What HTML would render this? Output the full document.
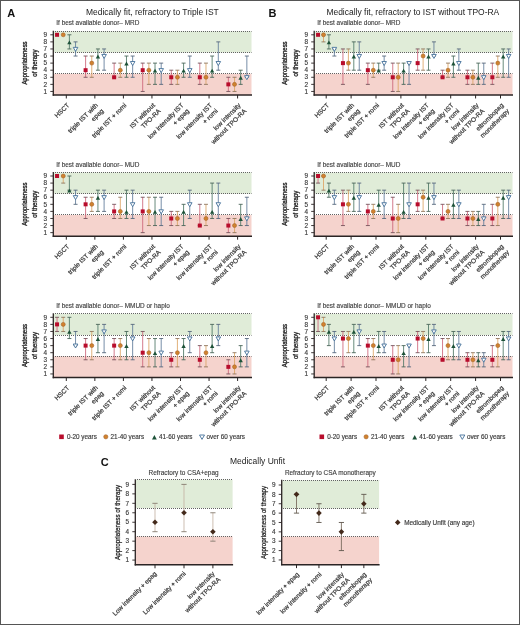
<!DOCTYPE html>
<html><head><meta charset="utf-8"><style>html,body{margin:0;padding:0;background:#fff;}body{width:520px;height:625px;overflow:hidden;position:relative;}</style></head>
<body>
<svg width="520" height="625" viewBox="0 0 520 625" font-family='"Liberation Sans", sans-serif' style="position:absolute;left:0;top:0;will-change:transform">
<rect x="0" y="0" width="520" height="625" fill="#fff"/>
<text x="7.2" y="17" font-size="11" font-weight="bold" fill="#111">A</text>
<text x="268.4" y="17.2" font-size="11" font-weight="bold" fill="#111">B</text>
<text x="100.8" y="466.3" font-size="11" font-weight="bold" fill="#111">C</text>
<text x="86" y="14.6" font-size="8.47" fill="#222">Medically fit, refractory to Triple IST</text>
<text x="326.4" y="14.6" font-size="8.47" fill="#222">Medically fit, refractory to IST without TPO-RA</text>
<text x="230" y="463.5" font-size="8.47" fill="#222">Medically Unfit</text>
<rect x="53.30" y="31.26" width="198.20" height="21.24" fill="#e0ecd8"/>
<rect x="53.30" y="73.74" width="198.20" height="21.24" fill="#f5d3cd"/>
<line x1="55.00" y1="31.50" x2="251.50" y2="31.50" stroke="#626262" stroke-width="1" stroke-dasharray="1 1"/>
<line x1="55.00" y1="52.50" x2="251.50" y2="52.50" stroke="#626262" stroke-width="1" stroke-dasharray="1 1"/>
<line x1="55.00" y1="73.50" x2="251.50" y2="73.50" stroke="#626262" stroke-width="1" stroke-dasharray="1 1"/>


<line x1="69.38" y1="34.80" x2="69.38" y2="48.96" stroke="#4d7664" stroke-width="0.85"/><line x1="67.38" y1="34.80" x2="71.38" y2="34.80" stroke="#4a6458" stroke-width="0.9"/><line x1="67.38" y1="48.96" x2="71.38" y2="48.96" stroke="#4a6458" stroke-width="0.9"/>
<line x1="75.55" y1="41.88" x2="75.55" y2="56.04" stroke="#5f7a98" stroke-width="0.85"/><line x1="73.55" y1="41.88" x2="77.55" y2="41.88" stroke="#56667a" stroke-width="0.9"/><line x1="73.55" y1="56.04" x2="77.55" y2="56.04" stroke="#56667a" stroke-width="0.9"/>
<rect x="55.05" y="32.80" width="4.00" height="4.00" fill="#b80d2c"/>
<circle cx="63.22" cy="34.80" r="2.00" fill="#d0822e" stroke="#a8642c" stroke-width="0.6"/>
<path d="M69.38,40.38 L71.58,44.28 L67.18,44.28Z" fill="#1d5238"/>
<path d="M73.25,47.36 L77.85,47.36 L75.55,51.36Z" fill="#fff" stroke="#44709a" stroke-width="0.9"/>
<line x1="85.60" y1="56.04" x2="85.60" y2="77.28" stroke="#cc6378" stroke-width="0.85"/><line x1="83.60" y1="56.04" x2="87.60" y2="56.04" stroke="#74525a" stroke-width="0.9"/><line x1="83.60" y1="77.28" x2="87.60" y2="77.28" stroke="#74525a" stroke-width="0.9"/>
<line x1="91.77" y1="56.04" x2="91.77" y2="77.28" stroke="#dca464" stroke-width="0.85"/><line x1="89.77" y1="56.04" x2="93.77" y2="56.04" stroke="#8e765e" stroke-width="0.9"/><line x1="89.77" y1="77.28" x2="93.77" y2="77.28" stroke="#8e765e" stroke-width="0.9"/>
<line x1="97.93" y1="48.96" x2="97.93" y2="70.20" stroke="#4d7664" stroke-width="0.85"/><line x1="95.93" y1="48.96" x2="99.93" y2="48.96" stroke="#4a6458" stroke-width="0.9"/><line x1="95.93" y1="70.20" x2="99.93" y2="70.20" stroke="#4a6458" stroke-width="0.9"/>
<line x1="104.10" y1="48.96" x2="104.10" y2="70.20" stroke="#5f7a98" stroke-width="0.85"/><line x1="102.10" y1="48.96" x2="106.10" y2="48.96" stroke="#56667a" stroke-width="0.9"/><line x1="102.10" y1="70.20" x2="106.10" y2="70.20" stroke="#56667a" stroke-width="0.9"/>
<rect x="83.60" y="68.20" width="4.00" height="4.00" fill="#b80d2c"/>
<circle cx="91.77" cy="63.12" r="2.00" fill="#d0822e" stroke="#a8642c" stroke-width="0.6"/>
<path d="M97.93,54.54 L100.13,58.44 L95.73,58.44Z" fill="#1d5238"/>
<path d="M101.80,54.44 L106.40,54.44 L104.10,58.44Z" fill="#fff" stroke="#44709a" stroke-width="0.9"/>
<line x1="114.15" y1="63.12" x2="114.15" y2="77.28" stroke="#cc6378" stroke-width="0.85"/><line x1="112.15" y1="63.12" x2="116.15" y2="63.12" stroke="#74525a" stroke-width="0.9"/><line x1="112.15" y1="77.28" x2="116.15" y2="77.28" stroke="#74525a" stroke-width="0.9"/>
<line x1="120.32" y1="63.12" x2="120.32" y2="77.28" stroke="#dca464" stroke-width="0.85"/><line x1="118.32" y1="63.12" x2="122.32" y2="63.12" stroke="#8e765e" stroke-width="0.9"/><line x1="118.32" y1="77.28" x2="122.32" y2="77.28" stroke="#8e765e" stroke-width="0.9"/>
<line x1="126.48" y1="56.04" x2="126.48" y2="77.28" stroke="#4d7664" stroke-width="0.85"/><line x1="124.48" y1="56.04" x2="128.48" y2="56.04" stroke="#4a6458" stroke-width="0.9"/><line x1="124.48" y1="77.28" x2="128.48" y2="77.28" stroke="#4a6458" stroke-width="0.9"/>
<line x1="132.65" y1="56.04" x2="132.65" y2="77.28" stroke="#5f7a98" stroke-width="0.85"/><line x1="130.65" y1="56.04" x2="134.65" y2="56.04" stroke="#56667a" stroke-width="0.9"/><line x1="130.65" y1="77.28" x2="134.65" y2="77.28" stroke="#56667a" stroke-width="0.9"/>
<rect x="112.15" y="75.28" width="4.00" height="4.00" fill="#b80d2c"/>
<circle cx="120.32" cy="70.20" r="2.00" fill="#d0822e" stroke="#a8642c" stroke-width="0.6"/>
<path d="M126.48,61.62 L128.68,65.52 L124.28,65.52Z" fill="#1d5238"/>
<path d="M130.35,61.52 L134.95,61.52 L132.65,65.52Z" fill="#fff" stroke="#44709a" stroke-width="0.9"/>
<line x1="142.70" y1="63.12" x2="142.70" y2="91.44" stroke="#cc6378" stroke-width="0.85"/><line x1="140.70" y1="63.12" x2="144.70" y2="63.12" stroke="#74525a" stroke-width="0.9"/><line x1="140.70" y1="91.44" x2="144.70" y2="91.44" stroke="#74525a" stroke-width="0.9"/>
<line x1="148.87" y1="63.12" x2="148.87" y2="84.36" stroke="#dca464" stroke-width="0.85"/><line x1="146.87" y1="63.12" x2="150.87" y2="63.12" stroke="#8e765e" stroke-width="0.9"/><line x1="146.87" y1="84.36" x2="150.87" y2="84.36" stroke="#8e765e" stroke-width="0.9"/>
<line x1="155.03" y1="63.12" x2="155.03" y2="84.36" stroke="#4d7664" stroke-width="0.85"/><line x1="153.03" y1="63.12" x2="157.03" y2="63.12" stroke="#4a6458" stroke-width="0.9"/><line x1="153.03" y1="84.36" x2="157.03" y2="84.36" stroke="#4a6458" stroke-width="0.9"/>
<line x1="161.20" y1="63.12" x2="161.20" y2="84.36" stroke="#5f7a98" stroke-width="0.85"/><line x1="159.20" y1="63.12" x2="163.20" y2="63.12" stroke="#56667a" stroke-width="0.9"/><line x1="159.20" y1="84.36" x2="163.20" y2="84.36" stroke="#56667a" stroke-width="0.9"/>
<rect x="140.70" y="68.20" width="4.00" height="4.00" fill="#b80d2c"/>
<circle cx="148.87" cy="70.20" r="2.00" fill="#d0822e" stroke="#a8642c" stroke-width="0.6"/>
<path d="M155.03,68.70 L157.23,72.60 L152.83,72.60Z" fill="#1d5238"/>
<path d="M158.90,68.60 L163.50,68.60 L161.20,72.60Z" fill="#fff" stroke="#44709a" stroke-width="0.9"/>
<line x1="171.25" y1="70.20" x2="171.25" y2="84.36" stroke="#cc6378" stroke-width="0.85"/><line x1="169.25" y1="70.20" x2="173.25" y2="70.20" stroke="#74525a" stroke-width="0.9"/><line x1="169.25" y1="84.36" x2="173.25" y2="84.36" stroke="#74525a" stroke-width="0.9"/>
<line x1="177.42" y1="70.20" x2="177.42" y2="84.36" stroke="#dca464" stroke-width="0.85"/><line x1="175.42" y1="70.20" x2="179.42" y2="70.20" stroke="#8e765e" stroke-width="0.9"/><line x1="175.42" y1="84.36" x2="179.42" y2="84.36" stroke="#8e765e" stroke-width="0.9"/>
<line x1="183.58" y1="63.12" x2="183.58" y2="77.28" stroke="#4d7664" stroke-width="0.85"/><line x1="181.58" y1="63.12" x2="185.58" y2="63.12" stroke="#4a6458" stroke-width="0.9"/><line x1="181.58" y1="77.28" x2="185.58" y2="77.28" stroke="#4a6458" stroke-width="0.9"/>
<line x1="189.75" y1="56.04" x2="189.75" y2="77.28" stroke="#5f7a98" stroke-width="0.85"/><line x1="187.75" y1="56.04" x2="191.75" y2="56.04" stroke="#56667a" stroke-width="0.9"/><line x1="187.75" y1="77.28" x2="191.75" y2="77.28" stroke="#56667a" stroke-width="0.9"/>
<rect x="169.25" y="75.28" width="4.00" height="4.00" fill="#b80d2c"/>
<circle cx="177.42" cy="77.28" r="2.00" fill="#d0822e" stroke="#a8642c" stroke-width="0.6"/>
<path d="M183.58,68.70 L185.78,72.60 L181.38,72.60Z" fill="#1d5238"/>
<path d="M187.45,68.60 L192.05,68.60 L189.75,72.60Z" fill="#fff" stroke="#44709a" stroke-width="0.9"/>
<line x1="199.80" y1="63.12" x2="199.80" y2="84.36" stroke="#cc6378" stroke-width="0.85"/><line x1="197.80" y1="63.12" x2="201.80" y2="63.12" stroke="#74525a" stroke-width="0.9"/><line x1="197.80" y1="84.36" x2="201.80" y2="84.36" stroke="#74525a" stroke-width="0.9"/>
<line x1="205.97" y1="63.12" x2="205.97" y2="84.36" stroke="#dca464" stroke-width="0.85"/><line x1="203.97" y1="63.12" x2="207.97" y2="63.12" stroke="#8e765e" stroke-width="0.9"/><line x1="203.97" y1="84.36" x2="207.97" y2="84.36" stroke="#8e765e" stroke-width="0.9"/>
<line x1="212.13" y1="56.04" x2="212.13" y2="77.28" stroke="#4d7664" stroke-width="0.85"/><line x1="210.13" y1="56.04" x2="214.13" y2="56.04" stroke="#4a6458" stroke-width="0.9"/><line x1="210.13" y1="77.28" x2="214.13" y2="77.28" stroke="#4a6458" stroke-width="0.9"/>
<line x1="218.30" y1="41.88" x2="218.30" y2="70.20" stroke="#5f7a98" stroke-width="0.85"/><line x1="216.30" y1="41.88" x2="220.30" y2="41.88" stroke="#56667a" stroke-width="0.9"/><line x1="216.30" y1="70.20" x2="220.30" y2="70.20" stroke="#56667a" stroke-width="0.9"/>
<rect x="197.80" y="75.28" width="4.00" height="4.00" fill="#b80d2c"/>
<circle cx="205.97" cy="77.28" r="2.00" fill="#d0822e" stroke="#a8642c" stroke-width="0.6"/>
<path d="M212.13,68.70 L214.33,72.60 L209.93,72.60Z" fill="#1d5238"/>
<path d="M216.00,61.52 L220.60,61.52 L218.30,65.52Z" fill="#fff" stroke="#44709a" stroke-width="0.9"/>
<line x1="228.35" y1="77.28" x2="228.35" y2="91.44" stroke="#cc6378" stroke-width="0.85"/><line x1="226.35" y1="77.28" x2="230.35" y2="77.28" stroke="#74525a" stroke-width="0.9"/><line x1="226.35" y1="91.44" x2="230.35" y2="91.44" stroke="#74525a" stroke-width="0.9"/>
<line x1="234.52" y1="77.28" x2="234.52" y2="91.44" stroke="#dca464" stroke-width="0.85"/><line x1="232.52" y1="77.28" x2="236.52" y2="77.28" stroke="#8e765e" stroke-width="0.9"/><line x1="232.52" y1="91.44" x2="236.52" y2="91.44" stroke="#8e765e" stroke-width="0.9"/>
<line x1="240.68" y1="70.20" x2="240.68" y2="84.36" stroke="#4d7664" stroke-width="0.85"/><line x1="238.68" y1="70.20" x2="242.68" y2="70.20" stroke="#4a6458" stroke-width="0.9"/><line x1="238.68" y1="84.36" x2="242.68" y2="84.36" stroke="#4a6458" stroke-width="0.9"/>
<line x1="246.85" y1="56.04" x2="246.85" y2="77.28" stroke="#5f7a98" stroke-width="0.85"/><line x1="244.85" y1="56.04" x2="248.85" y2="56.04" stroke="#56667a" stroke-width="0.9"/><line x1="244.85" y1="77.28" x2="248.85" y2="77.28" stroke="#56667a" stroke-width="0.9"/>
<rect x="226.35" y="82.36" width="4.00" height="4.00" fill="#b80d2c"/>
<circle cx="234.52" cy="84.36" r="2.00" fill="#d0822e" stroke="#a8642c" stroke-width="0.6"/>
<path d="M240.68,75.78 L242.88,79.68 L238.48,79.68Z" fill="#1d5238"/>
<path d="M244.55,75.68 L249.15,75.68 L246.85,79.68Z" fill="#fff" stroke="#44709a" stroke-width="0.9"/>
<line x1="53.30" y1="30.76" x2="53.30" y2="95.68" stroke="#2b2424" stroke-width="1.3"/>
<line x1="52.70" y1="94.98" x2="252.00" y2="94.98" stroke="#2b2424" stroke-width="1.5"/>
<line x1="50.30" y1="91.44" x2="53.30" y2="91.44" stroke="#2b2424" stroke-width="0.9"/>
<text x="47.10" y="93.64" font-size="6.4" text-anchor="end" fill="#3a3a3a" stroke="#3a3a3a" stroke-width="0.15">1</text>
<line x1="50.30" y1="84.36" x2="53.30" y2="84.36" stroke="#2b2424" stroke-width="0.9"/>
<text x="47.10" y="86.56" font-size="6.4" text-anchor="end" fill="#3a3a3a" stroke="#3a3a3a" stroke-width="0.15">2</text>
<line x1="50.30" y1="77.28" x2="53.30" y2="77.28" stroke="#2b2424" stroke-width="0.9"/>
<text x="47.10" y="79.48" font-size="6.4" text-anchor="end" fill="#3a3a3a" stroke="#3a3a3a" stroke-width="0.15">3</text>
<line x1="50.30" y1="70.20" x2="53.30" y2="70.20" stroke="#2b2424" stroke-width="0.9"/>
<text x="47.10" y="72.40" font-size="6.4" text-anchor="end" fill="#3a3a3a" stroke="#3a3a3a" stroke-width="0.15">4</text>
<line x1="50.30" y1="63.12" x2="53.30" y2="63.12" stroke="#2b2424" stroke-width="0.9"/>
<text x="47.10" y="65.32" font-size="6.4" text-anchor="end" fill="#3a3a3a" stroke="#3a3a3a" stroke-width="0.15">5</text>
<line x1="50.30" y1="56.04" x2="53.30" y2="56.04" stroke="#2b2424" stroke-width="0.9"/>
<text x="47.10" y="58.24" font-size="6.4" text-anchor="end" fill="#3a3a3a" stroke="#3a3a3a" stroke-width="0.15">6</text>
<line x1="50.30" y1="48.96" x2="53.30" y2="48.96" stroke="#2b2424" stroke-width="0.9"/>
<text x="47.10" y="51.16" font-size="6.4" text-anchor="end" fill="#3a3a3a" stroke="#3a3a3a" stroke-width="0.15">7</text>
<line x1="50.30" y1="41.88" x2="53.30" y2="41.88" stroke="#2b2424" stroke-width="0.9"/>
<text x="47.10" y="44.08" font-size="6.4" text-anchor="end" fill="#3a3a3a" stroke="#3a3a3a" stroke-width="0.15">8</text>
<line x1="50.30" y1="34.80" x2="53.30" y2="34.80" stroke="#2b2424" stroke-width="0.9"/>
<text x="47.10" y="37.00" font-size="6.4" text-anchor="end" fill="#3a3a3a" stroke="#3a3a3a" stroke-width="0.15">9</text>
<line x1="66.30" y1="94.98" x2="66.30" y2="98.48" stroke="#2b2424" stroke-width="1"/>
<line x1="94.85" y1="94.98" x2="94.85" y2="98.48" stroke="#2b2424" stroke-width="1"/>
<line x1="123.40" y1="94.98" x2="123.40" y2="98.48" stroke="#2b2424" stroke-width="1"/>
<line x1="151.95" y1="94.98" x2="151.95" y2="98.48" stroke="#2b2424" stroke-width="1"/>
<line x1="180.50" y1="94.98" x2="180.50" y2="98.48" stroke="#2b2424" stroke-width="1"/>
<line x1="209.05" y1="94.98" x2="209.05" y2="98.48" stroke="#2b2424" stroke-width="1"/>
<line x1="237.60" y1="94.98" x2="237.60" y2="98.48" stroke="#2b2424" stroke-width="1"/>
<text x="69.80" y="105.78" font-size="6.5" text-anchor="end" fill="#3a3a3a" stroke="#3a3a3a" stroke-width="0.24" transform="rotate(-45 69.80 105.78)">HSCT</text>
<text x="98.35" y="105.78" font-size="6.5" text-anchor="end" fill="#3a3a3a" stroke="#3a3a3a" stroke-width="0.24" transform="rotate(-45 98.35 105.78)">triple IST with</text>
<text x="104.01" y="111.44" font-size="6.5" text-anchor="end" fill="#3a3a3a" stroke="#3a3a3a" stroke-width="0.24" transform="rotate(-45 104.01 111.44)">epag</text>
<text x="126.90" y="105.78" font-size="6.5" text-anchor="end" fill="#3a3a3a" stroke="#3a3a3a" stroke-width="0.24" transform="rotate(-45 126.90 105.78)">triple IST + romi</text>
<text x="155.45" y="105.78" font-size="6.5" text-anchor="end" fill="#3a3a3a" stroke="#3a3a3a" stroke-width="0.24" transform="rotate(-45 155.45 105.78)">IST without</text>
<text x="161.11" y="111.44" font-size="6.5" text-anchor="end" fill="#3a3a3a" stroke="#3a3a3a" stroke-width="0.24" transform="rotate(-45 161.11 111.44)">TPO-RA</text>
<text x="184.00" y="105.78" font-size="6.5" text-anchor="end" fill="#3a3a3a" stroke="#3a3a3a" stroke-width="0.24" transform="rotate(-45 184.00 105.78)">low intensity IST</text>
<text x="189.66" y="111.44" font-size="6.5" text-anchor="end" fill="#3a3a3a" stroke="#3a3a3a" stroke-width="0.24" transform="rotate(-45 189.66 111.44)">+ epag</text>
<text x="212.55" y="105.78" font-size="6.5" text-anchor="end" fill="#3a3a3a" stroke="#3a3a3a" stroke-width="0.24" transform="rotate(-45 212.55 105.78)">low intensity IST</text>
<text x="218.21" y="111.44" font-size="6.5" text-anchor="end" fill="#3a3a3a" stroke="#3a3a3a" stroke-width="0.24" transform="rotate(-45 218.21 111.44)">+ romi</text>
<text x="241.10" y="105.78" font-size="6.5" text-anchor="end" fill="#3a3a3a" stroke="#3a3a3a" stroke-width="0.24" transform="rotate(-45 241.10 105.78)">low intensity</text>
<text x="246.76" y="111.44" font-size="6.5" text-anchor="end" fill="#3a3a3a" stroke="#3a3a3a" stroke-width="0.24" transform="rotate(-45 246.76 111.44)">without TPO-RA</text>
<text x="56.30" y="25.46" font-size="6.45" fill="#3a3a3a" stroke="#3a3a3a" stroke-width="0.12">If best available donor– MRD</text>
<rect x="314.20" y="31.26" width="198.30" height="21.24" fill="#e0ecd8"/>
<rect x="314.20" y="73.74" width="198.30" height="21.24" fill="#f5d3cd"/>
<line x1="316.00" y1="31.50" x2="512.50" y2="31.50" stroke="#626262" stroke-width="1" stroke-dasharray="1 1"/>
<line x1="316.00" y1="52.50" x2="512.50" y2="52.50" stroke="#626262" stroke-width="1" stroke-dasharray="1 1"/>
<line x1="316.00" y1="73.50" x2="512.50" y2="73.50" stroke="#626262" stroke-width="1" stroke-dasharray="1 1"/>

<line x1="323.50" y1="34.80" x2="323.50" y2="41.88" stroke="#dca464" stroke-width="0.85"/><line x1="321.50" y1="34.80" x2="325.50" y2="34.80" stroke="#8e765e" stroke-width="0.9"/><line x1="321.50" y1="41.88" x2="325.50" y2="41.88" stroke="#8e765e" stroke-width="0.9"/>
<line x1="328.90" y1="34.80" x2="328.90" y2="48.96" stroke="#4d7664" stroke-width="0.85"/><line x1="326.90" y1="34.80" x2="330.90" y2="34.80" stroke="#4a6458" stroke-width="0.9"/><line x1="326.90" y1="48.96" x2="330.90" y2="48.96" stroke="#4a6458" stroke-width="0.9"/>
<line x1="334.35" y1="48.96" x2="334.35" y2="56.04" stroke="#5f7a98" stroke-width="0.85"/><line x1="332.35" y1="48.96" x2="336.35" y2="48.96" stroke="#56667a" stroke-width="0.9"/><line x1="332.35" y1="56.04" x2="336.35" y2="56.04" stroke="#56667a" stroke-width="0.9"/>
<rect x="316.05" y="32.80" width="4.00" height="4.00" fill="#b80d2c"/>
<circle cx="323.50" cy="34.80" r="2.00" fill="#d0822e" stroke="#a8642c" stroke-width="0.6"/>
<path d="M328.90,40.38 L331.10,44.28 L326.70,44.28Z" fill="#1d5238"/>
<path d="M332.05,47.36 L336.65,47.36 L334.35,51.36Z" fill="#fff" stroke="#44709a" stroke-width="0.9"/>
<line x1="342.95" y1="48.96" x2="342.95" y2="84.36" stroke="#cc6378" stroke-width="0.85"/><line x1="340.95" y1="48.96" x2="344.95" y2="48.96" stroke="#74525a" stroke-width="0.9"/><line x1="340.95" y1="84.36" x2="344.95" y2="84.36" stroke="#74525a" stroke-width="0.9"/>
<line x1="348.40" y1="48.96" x2="348.40" y2="70.20" stroke="#dca464" stroke-width="0.85"/><line x1="346.40" y1="48.96" x2="350.40" y2="48.96" stroke="#8e765e" stroke-width="0.9"/><line x1="346.40" y1="70.20" x2="350.40" y2="70.20" stroke="#8e765e" stroke-width="0.9"/>
<line x1="353.80" y1="41.88" x2="353.80" y2="70.20" stroke="#4d7664" stroke-width="0.85"/><line x1="351.80" y1="41.88" x2="355.80" y2="41.88" stroke="#4a6458" stroke-width="0.9"/><line x1="351.80" y1="70.20" x2="355.80" y2="70.20" stroke="#4a6458" stroke-width="0.9"/>
<line x1="359.25" y1="41.88" x2="359.25" y2="70.20" stroke="#5f7a98" stroke-width="0.85"/><line x1="357.25" y1="41.88" x2="361.25" y2="41.88" stroke="#56667a" stroke-width="0.9"/><line x1="357.25" y1="70.20" x2="361.25" y2="70.20" stroke="#56667a" stroke-width="0.9"/>
<rect x="340.95" y="61.12" width="4.00" height="4.00" fill="#b80d2c"/>
<circle cx="348.40" cy="63.12" r="2.00" fill="#d0822e" stroke="#a8642c" stroke-width="0.6"/>
<path d="M353.80,54.54 L356.00,58.44 L351.60,58.44Z" fill="#1d5238"/>
<path d="M356.95,54.44 L361.55,54.44 L359.25,58.44Z" fill="#fff" stroke="#44709a" stroke-width="0.9"/>
<line x1="367.85" y1="63.12" x2="367.85" y2="84.36" stroke="#cc6378" stroke-width="0.85"/><line x1="365.85" y1="63.12" x2="369.85" y2="63.12" stroke="#74525a" stroke-width="0.9"/><line x1="365.85" y1="84.36" x2="369.85" y2="84.36" stroke="#74525a" stroke-width="0.9"/>
<line x1="373.30" y1="63.12" x2="373.30" y2="77.28" stroke="#dca464" stroke-width="0.85"/><line x1="371.30" y1="63.12" x2="375.30" y2="63.12" stroke="#8e765e" stroke-width="0.9"/><line x1="371.30" y1="77.28" x2="375.30" y2="77.28" stroke="#8e765e" stroke-width="0.9"/>
<line x1="378.70" y1="63.12" x2="378.70" y2="70.20" stroke="#4d7664" stroke-width="0.85"/><line x1="376.70" y1="63.12" x2="380.70" y2="63.12" stroke="#4a6458" stroke-width="0.9"/><line x1="376.70" y1="70.20" x2="380.70" y2="70.20" stroke="#4a6458" stroke-width="0.9"/>
<line x1="384.15" y1="56.04" x2="384.15" y2="70.20" stroke="#5f7a98" stroke-width="0.85"/><line x1="382.15" y1="56.04" x2="386.15" y2="56.04" stroke="#56667a" stroke-width="0.9"/><line x1="382.15" y1="70.20" x2="386.15" y2="70.20" stroke="#56667a" stroke-width="0.9"/>
<rect x="365.85" y="68.20" width="4.00" height="4.00" fill="#b80d2c"/>
<circle cx="373.30" cy="70.20" r="2.00" fill="#d0822e" stroke="#a8642c" stroke-width="0.6"/>
<path d="M378.70,68.70 L380.90,72.60 L376.50,72.60Z" fill="#1d5238"/>
<path d="M381.85,61.52 L386.45,61.52 L384.15,65.52Z" fill="#fff" stroke="#44709a" stroke-width="0.9"/>
<line x1="392.75" y1="63.12" x2="392.75" y2="91.44" stroke="#cc6378" stroke-width="0.85"/><line x1="390.75" y1="63.12" x2="394.75" y2="63.12" stroke="#74525a" stroke-width="0.9"/><line x1="390.75" y1="91.44" x2="394.75" y2="91.44" stroke="#74525a" stroke-width="0.9"/>
<line x1="398.20" y1="63.12" x2="398.20" y2="91.44" stroke="#dca464" stroke-width="0.85"/><line x1="396.20" y1="63.12" x2="400.20" y2="63.12" stroke="#8e765e" stroke-width="0.9"/><line x1="396.20" y1="91.44" x2="400.20" y2="91.44" stroke="#8e765e" stroke-width="0.9"/>
<line x1="403.60" y1="63.12" x2="403.60" y2="84.36" stroke="#4d7664" stroke-width="0.85"/><line x1="401.60" y1="63.12" x2="405.60" y2="63.12" stroke="#4a6458" stroke-width="0.9"/><line x1="401.60" y1="84.36" x2="405.60" y2="84.36" stroke="#4a6458" stroke-width="0.9"/>
<line x1="409.05" y1="63.12" x2="409.05" y2="84.36" stroke="#5f7a98" stroke-width="0.85"/><line x1="407.05" y1="63.12" x2="411.05" y2="63.12" stroke="#56667a" stroke-width="0.9"/><line x1="407.05" y1="84.36" x2="411.05" y2="84.36" stroke="#56667a" stroke-width="0.9"/>
<rect x="390.75" y="75.28" width="4.00" height="4.00" fill="#b80d2c"/>
<circle cx="398.20" cy="77.28" r="2.00" fill="#d0822e" stroke="#a8642c" stroke-width="0.6"/>
<path d="M403.60,68.70 L405.80,72.60 L401.40,72.60Z" fill="#1d5238"/>
<path d="M406.75,61.52 L411.35,61.52 L409.05,65.52Z" fill="#fff" stroke="#44709a" stroke-width="0.9"/>
<line x1="417.65" y1="48.96" x2="417.65" y2="70.20" stroke="#cc6378" stroke-width="0.85"/><line x1="415.65" y1="48.96" x2="419.65" y2="48.96" stroke="#74525a" stroke-width="0.9"/><line x1="415.65" y1="70.20" x2="419.65" y2="70.20" stroke="#74525a" stroke-width="0.9"/>
<line x1="423.10" y1="48.96" x2="423.10" y2="70.20" stroke="#dca464" stroke-width="0.85"/><line x1="421.10" y1="48.96" x2="425.10" y2="48.96" stroke="#8e765e" stroke-width="0.9"/><line x1="421.10" y1="70.20" x2="425.10" y2="70.20" stroke="#8e765e" stroke-width="0.9"/>
<line x1="428.50" y1="48.96" x2="428.50" y2="70.20" stroke="#4d7664" stroke-width="0.85"/><line x1="426.50" y1="48.96" x2="430.50" y2="48.96" stroke="#4a6458" stroke-width="0.9"/><line x1="426.50" y1="70.20" x2="430.50" y2="70.20" stroke="#4a6458" stroke-width="0.9"/>
<line x1="433.95" y1="41.88" x2="433.95" y2="56.04" stroke="#5f7a98" stroke-width="0.85"/><line x1="431.95" y1="41.88" x2="435.95" y2="41.88" stroke="#56667a" stroke-width="0.9"/><line x1="431.95" y1="56.04" x2="435.95" y2="56.04" stroke="#56667a" stroke-width="0.9"/>
<rect x="415.65" y="61.12" width="4.00" height="4.00" fill="#b80d2c"/>
<circle cx="423.10" cy="56.04" r="2.00" fill="#d0822e" stroke="#a8642c" stroke-width="0.6"/>
<path d="M428.50,54.54 L430.70,58.44 L426.30,58.44Z" fill="#1d5238"/>
<path d="M431.65,54.44 L436.25,54.44 L433.95,58.44Z" fill="#fff" stroke="#44709a" stroke-width="0.9"/>
<line x1="442.55" y1="70.20" x2="442.55" y2="77.28" stroke="#cc6378" stroke-width="0.85"/><line x1="440.55" y1="70.20" x2="444.55" y2="70.20" stroke="#74525a" stroke-width="0.9"/><line x1="440.55" y1="77.28" x2="444.55" y2="77.28" stroke="#74525a" stroke-width="0.9"/>
<line x1="448.00" y1="63.12" x2="448.00" y2="77.28" stroke="#dca464" stroke-width="0.85"/><line x1="446.00" y1="63.12" x2="450.00" y2="63.12" stroke="#8e765e" stroke-width="0.9"/><line x1="446.00" y1="77.28" x2="450.00" y2="77.28" stroke="#8e765e" stroke-width="0.9"/>
<line x1="453.40" y1="56.04" x2="453.40" y2="77.28" stroke="#4d7664" stroke-width="0.85"/><line x1="451.40" y1="56.04" x2="455.40" y2="56.04" stroke="#4a6458" stroke-width="0.9"/><line x1="451.40" y1="77.28" x2="455.40" y2="77.28" stroke="#4a6458" stroke-width="0.9"/>
<line x1="458.85" y1="48.96" x2="458.85" y2="70.20" stroke="#5f7a98" stroke-width="0.85"/><line x1="456.85" y1="48.96" x2="460.85" y2="48.96" stroke="#56667a" stroke-width="0.9"/><line x1="456.85" y1="70.20" x2="460.85" y2="70.20" stroke="#56667a" stroke-width="0.9"/>
<rect x="440.55" y="75.28" width="4.00" height="4.00" fill="#b80d2c"/>
<circle cx="448.00" cy="70.20" r="2.00" fill="#d0822e" stroke="#a8642c" stroke-width="0.6"/>
<path d="M453.40,61.62 L455.60,65.52 L451.20,65.52Z" fill="#1d5238"/>
<path d="M456.55,61.52 L461.15,61.52 L458.85,65.52Z" fill="#fff" stroke="#44709a" stroke-width="0.9"/>
<line x1="467.45" y1="70.20" x2="467.45" y2="84.36" stroke="#cc6378" stroke-width="0.85"/><line x1="465.45" y1="70.20" x2="469.45" y2="70.20" stroke="#74525a" stroke-width="0.9"/><line x1="465.45" y1="84.36" x2="469.45" y2="84.36" stroke="#74525a" stroke-width="0.9"/>
<line x1="472.90" y1="70.20" x2="472.90" y2="84.36" stroke="#dca464" stroke-width="0.85"/><line x1="470.90" y1="70.20" x2="474.90" y2="70.20" stroke="#8e765e" stroke-width="0.9"/><line x1="470.90" y1="84.36" x2="474.90" y2="84.36" stroke="#8e765e" stroke-width="0.9"/>
<line x1="478.30" y1="63.12" x2="478.30" y2="84.36" stroke="#4d7664" stroke-width="0.85"/><line x1="476.30" y1="63.12" x2="480.30" y2="63.12" stroke="#4a6458" stroke-width="0.9"/><line x1="476.30" y1="84.36" x2="480.30" y2="84.36" stroke="#4a6458" stroke-width="0.9"/>
<line x1="483.75" y1="63.12" x2="483.75" y2="84.36" stroke="#5f7a98" stroke-width="0.85"/><line x1="481.75" y1="63.12" x2="485.75" y2="63.12" stroke="#56667a" stroke-width="0.9"/><line x1="481.75" y1="84.36" x2="485.75" y2="84.36" stroke="#56667a" stroke-width="0.9"/>
<rect x="465.45" y="75.28" width="4.00" height="4.00" fill="#b80d2c"/>
<circle cx="472.90" cy="77.28" r="2.00" fill="#d0822e" stroke="#a8642c" stroke-width="0.6"/>
<path d="M478.30,75.78 L480.50,79.68 L476.10,79.68Z" fill="#1d5238"/>
<path d="M481.45,75.68 L486.05,75.68 L483.75,79.68Z" fill="#fff" stroke="#44709a" stroke-width="0.9"/>
<line x1="492.35" y1="63.12" x2="492.35" y2="84.36" stroke="#cc6378" stroke-width="0.85"/><line x1="490.35" y1="63.12" x2="494.35" y2="63.12" stroke="#74525a" stroke-width="0.9"/><line x1="490.35" y1="84.36" x2="494.35" y2="84.36" stroke="#74525a" stroke-width="0.9"/>
<line x1="497.80" y1="56.04" x2="497.80" y2="77.28" stroke="#dca464" stroke-width="0.85"/><line x1="495.80" y1="56.04" x2="499.80" y2="56.04" stroke="#8e765e" stroke-width="0.9"/><line x1="495.80" y1="77.28" x2="499.80" y2="77.28" stroke="#8e765e" stroke-width="0.9"/>
<line x1="503.20" y1="48.96" x2="503.20" y2="77.28" stroke="#4d7664" stroke-width="0.85"/><line x1="501.20" y1="48.96" x2="505.20" y2="48.96" stroke="#4a6458" stroke-width="0.9"/><line x1="501.20" y1="77.28" x2="505.20" y2="77.28" stroke="#4a6458" stroke-width="0.9"/>
<line x1="508.65" y1="48.96" x2="508.65" y2="77.28" stroke="#5f7a98" stroke-width="0.85"/><line x1="506.65" y1="48.96" x2="510.65" y2="48.96" stroke="#56667a" stroke-width="0.9"/><line x1="506.65" y1="77.28" x2="510.65" y2="77.28" stroke="#56667a" stroke-width="0.9"/>
<rect x="490.35" y="75.28" width="4.00" height="4.00" fill="#b80d2c"/>
<circle cx="497.80" cy="63.12" r="2.00" fill="#d0822e" stroke="#a8642c" stroke-width="0.6"/>
<path d="M503.20,54.54 L505.40,58.44 L501.00,58.44Z" fill="#1d5238"/>
<path d="M506.35,54.44 L510.95,54.44 L508.65,58.44Z" fill="#fff" stroke="#44709a" stroke-width="0.9"/>
<line x1="314.20" y1="30.76" x2="314.20" y2="95.68" stroke="#2b2424" stroke-width="1.3"/>
<line x1="313.60" y1="94.98" x2="513.00" y2="94.98" stroke="#2b2424" stroke-width="1.5"/>
<line x1="311.20" y1="91.44" x2="314.20" y2="91.44" stroke="#2b2424" stroke-width="0.9"/>
<text x="308.00" y="93.64" font-size="6.4" text-anchor="end" fill="#3a3a3a" stroke="#3a3a3a" stroke-width="0.15">1</text>
<line x1="311.20" y1="84.36" x2="314.20" y2="84.36" stroke="#2b2424" stroke-width="0.9"/>
<text x="308.00" y="86.56" font-size="6.4" text-anchor="end" fill="#3a3a3a" stroke="#3a3a3a" stroke-width="0.15">2</text>
<line x1="311.20" y1="77.28" x2="314.20" y2="77.28" stroke="#2b2424" stroke-width="0.9"/>
<text x="308.00" y="79.48" font-size="6.4" text-anchor="end" fill="#3a3a3a" stroke="#3a3a3a" stroke-width="0.15">3</text>
<line x1="311.20" y1="70.20" x2="314.20" y2="70.20" stroke="#2b2424" stroke-width="0.9"/>
<text x="308.00" y="72.40" font-size="6.4" text-anchor="end" fill="#3a3a3a" stroke="#3a3a3a" stroke-width="0.15">4</text>
<line x1="311.20" y1="63.12" x2="314.20" y2="63.12" stroke="#2b2424" stroke-width="0.9"/>
<text x="308.00" y="65.32" font-size="6.4" text-anchor="end" fill="#3a3a3a" stroke="#3a3a3a" stroke-width="0.15">5</text>
<line x1="311.20" y1="56.04" x2="314.20" y2="56.04" stroke="#2b2424" stroke-width="0.9"/>
<text x="308.00" y="58.24" font-size="6.4" text-anchor="end" fill="#3a3a3a" stroke="#3a3a3a" stroke-width="0.15">6</text>
<line x1="311.20" y1="48.96" x2="314.20" y2="48.96" stroke="#2b2424" stroke-width="0.9"/>
<text x="308.00" y="51.16" font-size="6.4" text-anchor="end" fill="#3a3a3a" stroke="#3a3a3a" stroke-width="0.15">7</text>
<line x1="311.20" y1="41.88" x2="314.20" y2="41.88" stroke="#2b2424" stroke-width="0.9"/>
<text x="308.00" y="44.08" font-size="6.4" text-anchor="end" fill="#3a3a3a" stroke="#3a3a3a" stroke-width="0.15">8</text>
<line x1="311.20" y1="34.80" x2="314.20" y2="34.80" stroke="#2b2424" stroke-width="0.9"/>
<text x="308.00" y="37.00" font-size="6.4" text-anchor="end" fill="#3a3a3a" stroke="#3a3a3a" stroke-width="0.15">9</text>
<line x1="326.20" y1="94.98" x2="326.20" y2="98.48" stroke="#2b2424" stroke-width="1"/>
<line x1="351.10" y1="94.98" x2="351.10" y2="98.48" stroke="#2b2424" stroke-width="1"/>
<line x1="376.00" y1="94.98" x2="376.00" y2="98.48" stroke="#2b2424" stroke-width="1"/>
<line x1="400.90" y1="94.98" x2="400.90" y2="98.48" stroke="#2b2424" stroke-width="1"/>
<line x1="425.80" y1="94.98" x2="425.80" y2="98.48" stroke="#2b2424" stroke-width="1"/>
<line x1="450.70" y1="94.98" x2="450.70" y2="98.48" stroke="#2b2424" stroke-width="1"/>
<line x1="475.60" y1="94.98" x2="475.60" y2="98.48" stroke="#2b2424" stroke-width="1"/>
<line x1="500.50" y1="94.98" x2="500.50" y2="98.48" stroke="#2b2424" stroke-width="1"/>
<text x="329.70" y="105.78" font-size="6.5" text-anchor="end" fill="#3a3a3a" stroke="#3a3a3a" stroke-width="0.24" transform="rotate(-45 329.70 105.78)">HSCT</text>
<text x="354.60" y="105.78" font-size="6.5" text-anchor="end" fill="#3a3a3a" stroke="#3a3a3a" stroke-width="0.24" transform="rotate(-45 354.60 105.78)">triple IST with</text>
<text x="360.26" y="111.44" font-size="6.5" text-anchor="end" fill="#3a3a3a" stroke="#3a3a3a" stroke-width="0.24" transform="rotate(-45 360.26 111.44)">epag</text>
<text x="379.50" y="105.78" font-size="6.5" text-anchor="end" fill="#3a3a3a" stroke="#3a3a3a" stroke-width="0.24" transform="rotate(-45 379.50 105.78)">triple IST + romi</text>
<text x="404.40" y="105.78" font-size="6.5" text-anchor="end" fill="#3a3a3a" stroke="#3a3a3a" stroke-width="0.24" transform="rotate(-45 404.40 105.78)">IST without</text>
<text x="410.06" y="111.44" font-size="6.5" text-anchor="end" fill="#3a3a3a" stroke="#3a3a3a" stroke-width="0.24" transform="rotate(-45 410.06 111.44)">TPO-RA</text>
<text x="429.30" y="105.78" font-size="6.5" text-anchor="end" fill="#3a3a3a" stroke="#3a3a3a" stroke-width="0.24" transform="rotate(-45 429.30 105.78)">low intensity IST</text>
<text x="434.96" y="111.44" font-size="6.5" text-anchor="end" fill="#3a3a3a" stroke="#3a3a3a" stroke-width="0.24" transform="rotate(-45 434.96 111.44)">+ epag</text>
<text x="454.20" y="105.78" font-size="6.5" text-anchor="end" fill="#3a3a3a" stroke="#3a3a3a" stroke-width="0.24" transform="rotate(-45 454.20 105.78)">low intensity IST</text>
<text x="459.86" y="111.44" font-size="6.5" text-anchor="end" fill="#3a3a3a" stroke="#3a3a3a" stroke-width="0.24" transform="rotate(-45 459.86 111.44)">+ romi</text>
<text x="479.10" y="105.78" font-size="6.5" text-anchor="end" fill="#3a3a3a" stroke="#3a3a3a" stroke-width="0.24" transform="rotate(-45 479.10 105.78)">low intensity</text>
<text x="484.76" y="111.44" font-size="6.5" text-anchor="end" fill="#3a3a3a" stroke="#3a3a3a" stroke-width="0.24" transform="rotate(-45 484.76 111.44)">without TPO-RA</text>
<text x="504.00" y="105.78" font-size="6.5" text-anchor="end" fill="#3a3a3a" stroke="#3a3a3a" stroke-width="0.24" transform="rotate(-45 504.00 105.78)">eltrombopag</text>
<text x="509.66" y="111.44" font-size="6.5" text-anchor="end" fill="#3a3a3a" stroke="#3a3a3a" stroke-width="0.24" transform="rotate(-45 509.66 111.44)">monotherapy</text>
<text x="317.30" y="25.46" font-size="6.45" fill="#3a3a3a" stroke="#3a3a3a" stroke-width="0.12">If best available donor– MRD</text>
<text x="26.60" y="63.02" font-size="6.7" text-anchor="middle" fill="#222" stroke="#222" stroke-width="0.3" textLength="43.2" lengthAdjust="spacingAndGlyphs" transform="rotate(-90 26.60 63.02)">Appropriateness</text>
<text x="37.20" y="63.02" font-size="6.7" text-anchor="middle" fill="#222" stroke="#222" stroke-width="0.3" textLength="27.2" lengthAdjust="spacingAndGlyphs" transform="rotate(-90 37.20 63.02)">of therapy</text>
<text x="287.50" y="63.02" font-size="6.7" text-anchor="middle" fill="#222" stroke="#222" stroke-width="0.3" textLength="43.2" lengthAdjust="spacingAndGlyphs" transform="rotate(-90 287.50 63.02)">Appropriateness</text>
<text x="298.10" y="63.02" font-size="6.7" text-anchor="middle" fill="#222" stroke="#222" stroke-width="0.3" textLength="27.2" lengthAdjust="spacingAndGlyphs" transform="rotate(-90 298.10 63.02)">of therapy</text>
<rect x="53.30" y="172.46" width="198.20" height="21.24" fill="#e0ecd8"/>
<rect x="53.30" y="214.94" width="198.20" height="21.24" fill="#f5d3cd"/>
<line x1="55.00" y1="172.50" x2="251.50" y2="172.50" stroke="#626262" stroke-width="1" stroke-dasharray="1 1"/>
<line x1="55.00" y1="193.50" x2="251.50" y2="193.50" stroke="#626262" stroke-width="1" stroke-dasharray="1 1"/>
<line x1="55.00" y1="214.50" x2="251.50" y2="214.50" stroke="#626262" stroke-width="1" stroke-dasharray="1 1"/>

<line x1="63.22" y1="176.00" x2="63.22" y2="183.08" stroke="#dca464" stroke-width="0.85"/><line x1="61.22" y1="176.00" x2="65.22" y2="176.00" stroke="#8e765e" stroke-width="0.9"/><line x1="61.22" y1="183.08" x2="65.22" y2="183.08" stroke="#8e765e" stroke-width="0.9"/>
<line x1="69.38" y1="176.00" x2="69.38" y2="190.16" stroke="#4d7664" stroke-width="0.85"/><line x1="67.38" y1="176.00" x2="71.38" y2="176.00" stroke="#4a6458" stroke-width="0.9"/><line x1="67.38" y1="190.16" x2="71.38" y2="190.16" stroke="#4a6458" stroke-width="0.9"/>
<line x1="75.55" y1="190.16" x2="75.55" y2="204.32" stroke="#5f7a98" stroke-width="0.85"/><line x1="73.55" y1="190.16" x2="77.55" y2="190.16" stroke="#56667a" stroke-width="0.9"/><line x1="73.55" y1="204.32" x2="77.55" y2="204.32" stroke="#56667a" stroke-width="0.9"/>
<rect x="55.05" y="174.00" width="4.00" height="4.00" fill="#b80d2c"/>
<circle cx="63.22" cy="176.00" r="2.00" fill="#d0822e" stroke="#a8642c" stroke-width="0.6"/>
<path d="M69.38,188.66 L71.58,192.56 L67.18,192.56Z" fill="#1d5238"/>
<path d="M73.25,195.64 L77.85,195.64 L75.55,199.64Z" fill="#fff" stroke="#44709a" stroke-width="0.9"/>
<line x1="85.60" y1="197.24" x2="85.60" y2="218.48" stroke="#cc6378" stroke-width="0.85"/><line x1="83.60" y1="197.24" x2="87.60" y2="197.24" stroke="#74525a" stroke-width="0.9"/><line x1="83.60" y1="218.48" x2="87.60" y2="218.48" stroke="#74525a" stroke-width="0.9"/>
<line x1="91.77" y1="197.24" x2="91.77" y2="211.40" stroke="#dca464" stroke-width="0.85"/><line x1="89.77" y1="197.24" x2="93.77" y2="197.24" stroke="#8e765e" stroke-width="0.9"/><line x1="89.77" y1="211.40" x2="93.77" y2="211.40" stroke="#8e765e" stroke-width="0.9"/>
<line x1="97.93" y1="190.16" x2="97.93" y2="211.40" stroke="#4d7664" stroke-width="0.85"/><line x1="95.93" y1="190.16" x2="99.93" y2="190.16" stroke="#4a6458" stroke-width="0.9"/><line x1="95.93" y1="211.40" x2="99.93" y2="211.40" stroke="#4a6458" stroke-width="0.9"/>
<line x1="104.10" y1="190.16" x2="104.10" y2="211.40" stroke="#5f7a98" stroke-width="0.85"/><line x1="102.10" y1="190.16" x2="106.10" y2="190.16" stroke="#56667a" stroke-width="0.9"/><line x1="102.10" y1="211.40" x2="106.10" y2="211.40" stroke="#56667a" stroke-width="0.9"/>
<rect x="83.60" y="202.32" width="4.00" height="4.00" fill="#b80d2c"/>
<circle cx="91.77" cy="204.32" r="2.00" fill="#d0822e" stroke="#a8642c" stroke-width="0.6"/>
<path d="M97.93,195.74 L100.13,199.64 L95.73,199.64Z" fill="#1d5238"/>
<path d="M101.80,195.64 L106.40,195.64 L104.10,199.64Z" fill="#fff" stroke="#44709a" stroke-width="0.9"/>
<line x1="114.15" y1="204.32" x2="114.15" y2="218.48" stroke="#cc6378" stroke-width="0.85"/><line x1="112.15" y1="204.32" x2="116.15" y2="204.32" stroke="#74525a" stroke-width="0.9"/><line x1="112.15" y1="218.48" x2="116.15" y2="218.48" stroke="#74525a" stroke-width="0.9"/>
<line x1="120.32" y1="197.24" x2="120.32" y2="218.48" stroke="#dca464" stroke-width="0.85"/><line x1="118.32" y1="197.24" x2="122.32" y2="197.24" stroke="#8e765e" stroke-width="0.9"/><line x1="118.32" y1="218.48" x2="122.32" y2="218.48" stroke="#8e765e" stroke-width="0.9"/>
<line x1="126.48" y1="190.16" x2="126.48" y2="218.48" stroke="#4d7664" stroke-width="0.85"/><line x1="124.48" y1="190.16" x2="128.48" y2="190.16" stroke="#4a6458" stroke-width="0.9"/><line x1="124.48" y1="218.48" x2="128.48" y2="218.48" stroke="#4a6458" stroke-width="0.9"/>
<line x1="132.65" y1="190.16" x2="132.65" y2="218.48" stroke="#5f7a98" stroke-width="0.85"/><line x1="130.65" y1="190.16" x2="134.65" y2="190.16" stroke="#56667a" stroke-width="0.9"/><line x1="130.65" y1="218.48" x2="134.65" y2="218.48" stroke="#56667a" stroke-width="0.9"/>
<rect x="112.15" y="209.40" width="4.00" height="4.00" fill="#b80d2c"/>
<circle cx="120.32" cy="211.40" r="2.00" fill="#d0822e" stroke="#a8642c" stroke-width="0.6"/>
<path d="M126.48,209.90 L128.68,213.80 L124.28,213.80Z" fill="#1d5238"/>
<path d="M130.35,202.72 L134.95,202.72 L132.65,206.72Z" fill="#fff" stroke="#44709a" stroke-width="0.9"/>
<line x1="142.70" y1="197.24" x2="142.70" y2="232.64" stroke="#cc6378" stroke-width="0.85"/><line x1="140.70" y1="197.24" x2="144.70" y2="197.24" stroke="#74525a" stroke-width="0.9"/><line x1="140.70" y1="232.64" x2="144.70" y2="232.64" stroke="#74525a" stroke-width="0.9"/>
<line x1="148.87" y1="197.24" x2="148.87" y2="225.56" stroke="#dca464" stroke-width="0.85"/><line x1="146.87" y1="197.24" x2="150.87" y2="197.24" stroke="#8e765e" stroke-width="0.9"/><line x1="146.87" y1="225.56" x2="150.87" y2="225.56" stroke="#8e765e" stroke-width="0.9"/>
<line x1="155.03" y1="197.24" x2="155.03" y2="225.56" stroke="#4d7664" stroke-width="0.85"/><line x1="153.03" y1="197.24" x2="157.03" y2="197.24" stroke="#4a6458" stroke-width="0.9"/><line x1="153.03" y1="225.56" x2="157.03" y2="225.56" stroke="#4a6458" stroke-width="0.9"/>
<line x1="161.20" y1="197.24" x2="161.20" y2="225.56" stroke="#5f7a98" stroke-width="0.85"/><line x1="159.20" y1="197.24" x2="163.20" y2="197.24" stroke="#56667a" stroke-width="0.9"/><line x1="159.20" y1="225.56" x2="163.20" y2="225.56" stroke="#56667a" stroke-width="0.9"/>
<rect x="140.70" y="209.40" width="4.00" height="4.00" fill="#b80d2c"/>
<circle cx="148.87" cy="211.40" r="2.00" fill="#d0822e" stroke="#a8642c" stroke-width="0.6"/>
<path d="M155.03,209.90 L157.23,213.80 L152.83,213.80Z" fill="#1d5238"/>
<path d="M158.90,209.80 L163.50,209.80 L161.20,213.80Z" fill="#fff" stroke="#44709a" stroke-width="0.9"/>
<line x1="171.25" y1="211.40" x2="171.25" y2="225.56" stroke="#cc6378" stroke-width="0.85"/><line x1="169.25" y1="211.40" x2="173.25" y2="211.40" stroke="#74525a" stroke-width="0.9"/><line x1="169.25" y1="225.56" x2="173.25" y2="225.56" stroke="#74525a" stroke-width="0.9"/>
<line x1="177.42" y1="211.40" x2="177.42" y2="225.56" stroke="#dca464" stroke-width="0.85"/><line x1="175.42" y1="211.40" x2="179.42" y2="211.40" stroke="#8e765e" stroke-width="0.9"/><line x1="175.42" y1="225.56" x2="179.42" y2="225.56" stroke="#8e765e" stroke-width="0.9"/>
<line x1="183.58" y1="204.32" x2="183.58" y2="225.56" stroke="#4d7664" stroke-width="0.85"/><line x1="181.58" y1="204.32" x2="185.58" y2="204.32" stroke="#4a6458" stroke-width="0.9"/><line x1="181.58" y1="225.56" x2="185.58" y2="225.56" stroke="#4a6458" stroke-width="0.9"/>
<line x1="189.75" y1="190.16" x2="189.75" y2="218.48" stroke="#5f7a98" stroke-width="0.85"/><line x1="187.75" y1="190.16" x2="191.75" y2="190.16" stroke="#56667a" stroke-width="0.9"/><line x1="187.75" y1="218.48" x2="191.75" y2="218.48" stroke="#56667a" stroke-width="0.9"/>
<rect x="169.25" y="216.48" width="4.00" height="4.00" fill="#b80d2c"/>
<circle cx="177.42" cy="218.48" r="2.00" fill="#d0822e" stroke="#a8642c" stroke-width="0.6"/>
<path d="M183.58,209.90 L185.78,213.80 L181.38,213.80Z" fill="#1d5238"/>
<path d="M187.45,202.72 L192.05,202.72 L189.75,206.72Z" fill="#fff" stroke="#44709a" stroke-width="0.9"/>
<line x1="199.80" y1="204.32" x2="199.80" y2="225.56" stroke="#cc6378" stroke-width="0.85"/><line x1="197.80" y1="204.32" x2="201.80" y2="204.32" stroke="#74525a" stroke-width="0.9"/><line x1="197.80" y1="225.56" x2="201.80" y2="225.56" stroke="#74525a" stroke-width="0.9"/>
<line x1="205.97" y1="204.32" x2="205.97" y2="225.56" stroke="#dca464" stroke-width="0.85"/><line x1="203.97" y1="204.32" x2="207.97" y2="204.32" stroke="#8e765e" stroke-width="0.9"/><line x1="203.97" y1="225.56" x2="207.97" y2="225.56" stroke="#8e765e" stroke-width="0.9"/>
<line x1="212.13" y1="183.08" x2="212.13" y2="218.48" stroke="#4d7664" stroke-width="0.85"/><line x1="210.13" y1="183.08" x2="214.13" y2="183.08" stroke="#4a6458" stroke-width="0.9"/><line x1="210.13" y1="218.48" x2="214.13" y2="218.48" stroke="#4a6458" stroke-width="0.9"/>
<line x1="218.30" y1="183.08" x2="218.30" y2="218.48" stroke="#5f7a98" stroke-width="0.85"/><line x1="216.30" y1="183.08" x2="220.30" y2="183.08" stroke="#56667a" stroke-width="0.9"/><line x1="216.30" y1="218.48" x2="220.30" y2="218.48" stroke="#56667a" stroke-width="0.9"/>
<rect x="197.80" y="223.56" width="4.00" height="4.00" fill="#b80d2c"/>
<circle cx="205.97" cy="218.48" r="2.00" fill="#d0822e" stroke="#a8642c" stroke-width="0.6"/>
<path d="M212.13,209.90 L214.33,213.80 L209.93,213.80Z" fill="#1d5238"/>
<path d="M216.00,202.72 L220.60,202.72 L218.30,206.72Z" fill="#fff" stroke="#44709a" stroke-width="0.9"/>
<line x1="228.35" y1="218.48" x2="228.35" y2="232.64" stroke="#cc6378" stroke-width="0.85"/><line x1="226.35" y1="218.48" x2="230.35" y2="218.48" stroke="#74525a" stroke-width="0.9"/><line x1="226.35" y1="232.64" x2="230.35" y2="232.64" stroke="#74525a" stroke-width="0.9"/>
<line x1="234.52" y1="218.48" x2="234.52" y2="232.64" stroke="#dca464" stroke-width="0.85"/><line x1="232.52" y1="218.48" x2="236.52" y2="218.48" stroke="#8e765e" stroke-width="0.9"/><line x1="232.52" y1="232.64" x2="236.52" y2="232.64" stroke="#8e765e" stroke-width="0.9"/>
<line x1="240.68" y1="204.32" x2="240.68" y2="225.56" stroke="#4d7664" stroke-width="0.85"/><line x1="238.68" y1="204.32" x2="242.68" y2="204.32" stroke="#4a6458" stroke-width="0.9"/><line x1="238.68" y1="225.56" x2="242.68" y2="225.56" stroke="#4a6458" stroke-width="0.9"/>
<line x1="246.85" y1="197.24" x2="246.85" y2="225.56" stroke="#5f7a98" stroke-width="0.85"/><line x1="244.85" y1="197.24" x2="248.85" y2="197.24" stroke="#56667a" stroke-width="0.9"/><line x1="244.85" y1="225.56" x2="248.85" y2="225.56" stroke="#56667a" stroke-width="0.9"/>
<rect x="226.35" y="223.56" width="4.00" height="4.00" fill="#b80d2c"/>
<circle cx="234.52" cy="225.56" r="2.00" fill="#d0822e" stroke="#a8642c" stroke-width="0.6"/>
<path d="M240.68,216.98 L242.88,220.88 L238.48,220.88Z" fill="#1d5238"/>
<path d="M244.55,216.88 L249.15,216.88 L246.85,220.88Z" fill="#fff" stroke="#44709a" stroke-width="0.9"/>
<line x1="53.30" y1="171.96" x2="53.30" y2="236.88" stroke="#2b2424" stroke-width="1.3"/>
<line x1="52.70" y1="236.18" x2="252.00" y2="236.18" stroke="#2b2424" stroke-width="1.5"/>
<line x1="50.30" y1="232.64" x2="53.30" y2="232.64" stroke="#2b2424" stroke-width="0.9"/>
<text x="47.10" y="234.84" font-size="6.4" text-anchor="end" fill="#3a3a3a" stroke="#3a3a3a" stroke-width="0.15">1</text>
<line x1="50.30" y1="225.56" x2="53.30" y2="225.56" stroke="#2b2424" stroke-width="0.9"/>
<text x="47.10" y="227.76" font-size="6.4" text-anchor="end" fill="#3a3a3a" stroke="#3a3a3a" stroke-width="0.15">2</text>
<line x1="50.30" y1="218.48" x2="53.30" y2="218.48" stroke="#2b2424" stroke-width="0.9"/>
<text x="47.10" y="220.68" font-size="6.4" text-anchor="end" fill="#3a3a3a" stroke="#3a3a3a" stroke-width="0.15">3</text>
<line x1="50.30" y1="211.40" x2="53.30" y2="211.40" stroke="#2b2424" stroke-width="0.9"/>
<text x="47.10" y="213.60" font-size="6.4" text-anchor="end" fill="#3a3a3a" stroke="#3a3a3a" stroke-width="0.15">4</text>
<line x1="50.30" y1="204.32" x2="53.30" y2="204.32" stroke="#2b2424" stroke-width="0.9"/>
<text x="47.10" y="206.52" font-size="6.4" text-anchor="end" fill="#3a3a3a" stroke="#3a3a3a" stroke-width="0.15">5</text>
<line x1="50.30" y1="197.24" x2="53.30" y2="197.24" stroke="#2b2424" stroke-width="0.9"/>
<text x="47.10" y="199.44" font-size="6.4" text-anchor="end" fill="#3a3a3a" stroke="#3a3a3a" stroke-width="0.15">6</text>
<line x1="50.30" y1="190.16" x2="53.30" y2="190.16" stroke="#2b2424" stroke-width="0.9"/>
<text x="47.10" y="192.36" font-size="6.4" text-anchor="end" fill="#3a3a3a" stroke="#3a3a3a" stroke-width="0.15">7</text>
<line x1="50.30" y1="183.08" x2="53.30" y2="183.08" stroke="#2b2424" stroke-width="0.9"/>
<text x="47.10" y="185.28" font-size="6.4" text-anchor="end" fill="#3a3a3a" stroke="#3a3a3a" stroke-width="0.15">8</text>
<line x1="50.30" y1="176.00" x2="53.30" y2="176.00" stroke="#2b2424" stroke-width="0.9"/>
<text x="47.10" y="178.20" font-size="6.4" text-anchor="end" fill="#3a3a3a" stroke="#3a3a3a" stroke-width="0.15">9</text>
<line x1="66.30" y1="236.18" x2="66.30" y2="239.68" stroke="#2b2424" stroke-width="1"/>
<line x1="94.85" y1="236.18" x2="94.85" y2="239.68" stroke="#2b2424" stroke-width="1"/>
<line x1="123.40" y1="236.18" x2="123.40" y2="239.68" stroke="#2b2424" stroke-width="1"/>
<line x1="151.95" y1="236.18" x2="151.95" y2="239.68" stroke="#2b2424" stroke-width="1"/>
<line x1="180.50" y1="236.18" x2="180.50" y2="239.68" stroke="#2b2424" stroke-width="1"/>
<line x1="209.05" y1="236.18" x2="209.05" y2="239.68" stroke="#2b2424" stroke-width="1"/>
<line x1="237.60" y1="236.18" x2="237.60" y2="239.68" stroke="#2b2424" stroke-width="1"/>
<text x="69.80" y="246.98" font-size="6.5" text-anchor="end" fill="#3a3a3a" stroke="#3a3a3a" stroke-width="0.24" transform="rotate(-45 69.80 246.98)">HSCT</text>
<text x="98.35" y="246.98" font-size="6.5" text-anchor="end" fill="#3a3a3a" stroke="#3a3a3a" stroke-width="0.24" transform="rotate(-45 98.35 246.98)">triple IST with</text>
<text x="104.01" y="252.64" font-size="6.5" text-anchor="end" fill="#3a3a3a" stroke="#3a3a3a" stroke-width="0.24" transform="rotate(-45 104.01 252.64)">epag</text>
<text x="126.90" y="246.98" font-size="6.5" text-anchor="end" fill="#3a3a3a" stroke="#3a3a3a" stroke-width="0.24" transform="rotate(-45 126.90 246.98)">triple IST + romi</text>
<text x="155.45" y="246.98" font-size="6.5" text-anchor="end" fill="#3a3a3a" stroke="#3a3a3a" stroke-width="0.24" transform="rotate(-45 155.45 246.98)">IST without</text>
<text x="161.11" y="252.64" font-size="6.5" text-anchor="end" fill="#3a3a3a" stroke="#3a3a3a" stroke-width="0.24" transform="rotate(-45 161.11 252.64)">TPO-RA</text>
<text x="184.00" y="246.98" font-size="6.5" text-anchor="end" fill="#3a3a3a" stroke="#3a3a3a" stroke-width="0.24" transform="rotate(-45 184.00 246.98)">low intensity IST</text>
<text x="189.66" y="252.64" font-size="6.5" text-anchor="end" fill="#3a3a3a" stroke="#3a3a3a" stroke-width="0.24" transform="rotate(-45 189.66 252.64)">+ epag</text>
<text x="212.55" y="246.98" font-size="6.5" text-anchor="end" fill="#3a3a3a" stroke="#3a3a3a" stroke-width="0.24" transform="rotate(-45 212.55 246.98)">low intensity IST</text>
<text x="218.21" y="252.64" font-size="6.5" text-anchor="end" fill="#3a3a3a" stroke="#3a3a3a" stroke-width="0.24" transform="rotate(-45 218.21 252.64)">+ romi</text>
<text x="241.10" y="246.98" font-size="6.5" text-anchor="end" fill="#3a3a3a" stroke="#3a3a3a" stroke-width="0.24" transform="rotate(-45 241.10 246.98)">low intensity</text>
<text x="246.76" y="252.64" font-size="6.5" text-anchor="end" fill="#3a3a3a" stroke="#3a3a3a" stroke-width="0.24" transform="rotate(-45 246.76 252.64)">without TPO-RA</text>
<text x="56.30" y="166.66" font-size="6.45" fill="#3a3a3a" stroke="#3a3a3a" stroke-width="0.12">If best available donor– MUD</text>
<rect x="314.20" y="172.46" width="198.30" height="21.24" fill="#e0ecd8"/>
<rect x="314.20" y="214.94" width="198.30" height="21.24" fill="#f5d3cd"/>
<line x1="316.00" y1="172.50" x2="512.50" y2="172.50" stroke="#626262" stroke-width="1" stroke-dasharray="1 1"/>
<line x1="316.00" y1="193.50" x2="512.50" y2="193.50" stroke="#626262" stroke-width="1" stroke-dasharray="1 1"/>
<line x1="316.00" y1="214.50" x2="512.50" y2="214.50" stroke="#626262" stroke-width="1" stroke-dasharray="1 1"/>
<line x1="318.05" y1="176.00" x2="318.05" y2="183.08" stroke="#cc6378" stroke-width="0.85"/><line x1="316.05" y1="176.00" x2="320.05" y2="176.00" stroke="#74525a" stroke-width="0.9"/><line x1="316.05" y1="183.08" x2="320.05" y2="183.08" stroke="#74525a" stroke-width="0.9"/>
<line x1="323.50" y1="176.00" x2="323.50" y2="190.16" stroke="#dca464" stroke-width="0.85"/><line x1="321.50" y1="176.00" x2="325.50" y2="176.00" stroke="#8e765e" stroke-width="0.9"/><line x1="321.50" y1="190.16" x2="325.50" y2="190.16" stroke="#8e765e" stroke-width="0.9"/>
<line x1="328.90" y1="183.08" x2="328.90" y2="197.24" stroke="#4d7664" stroke-width="0.85"/><line x1="326.90" y1="183.08" x2="330.90" y2="183.08" stroke="#4a6458" stroke-width="0.9"/><line x1="326.90" y1="197.24" x2="330.90" y2="197.24" stroke="#4a6458" stroke-width="0.9"/>
<line x1="334.35" y1="190.16" x2="334.35" y2="204.32" stroke="#5f7a98" stroke-width="0.85"/><line x1="332.35" y1="190.16" x2="336.35" y2="190.16" stroke="#56667a" stroke-width="0.9"/><line x1="332.35" y1="204.32" x2="336.35" y2="204.32" stroke="#56667a" stroke-width="0.9"/>
<rect x="316.05" y="174.00" width="4.00" height="4.00" fill="#b80d2c"/>
<circle cx="323.50" cy="176.00" r="2.00" fill="#d0822e" stroke="#a8642c" stroke-width="0.6"/>
<path d="M328.90,188.66 L331.10,192.56 L326.70,192.56Z" fill="#1d5238"/>
<path d="M332.05,195.64 L336.65,195.64 L334.35,199.64Z" fill="#fff" stroke="#44709a" stroke-width="0.9"/>
<line x1="342.95" y1="190.16" x2="342.95" y2="225.56" stroke="#cc6378" stroke-width="0.85"/><line x1="340.95" y1="190.16" x2="344.95" y2="190.16" stroke="#74525a" stroke-width="0.9"/><line x1="340.95" y1="225.56" x2="344.95" y2="225.56" stroke="#74525a" stroke-width="0.9"/>
<line x1="348.40" y1="190.16" x2="348.40" y2="211.40" stroke="#dca464" stroke-width="0.85"/><line x1="346.40" y1="190.16" x2="350.40" y2="190.16" stroke="#8e765e" stroke-width="0.9"/><line x1="346.40" y1="211.40" x2="350.40" y2="211.40" stroke="#8e765e" stroke-width="0.9"/>
<line x1="353.80" y1="183.08" x2="353.80" y2="211.40" stroke="#4d7664" stroke-width="0.85"/><line x1="351.80" y1="183.08" x2="355.80" y2="183.08" stroke="#4a6458" stroke-width="0.9"/><line x1="351.80" y1="211.40" x2="355.80" y2="211.40" stroke="#4a6458" stroke-width="0.9"/>
<line x1="359.25" y1="183.08" x2="359.25" y2="211.40" stroke="#5f7a98" stroke-width="0.85"/><line x1="357.25" y1="183.08" x2="361.25" y2="183.08" stroke="#56667a" stroke-width="0.9"/><line x1="357.25" y1="211.40" x2="361.25" y2="211.40" stroke="#56667a" stroke-width="0.9"/>
<rect x="340.95" y="202.32" width="4.00" height="4.00" fill="#b80d2c"/>
<circle cx="348.40" cy="204.32" r="2.00" fill="#d0822e" stroke="#a8642c" stroke-width="0.6"/>
<path d="M353.80,195.74 L356.00,199.64 L351.60,199.64Z" fill="#1d5238"/>
<path d="M356.95,195.64 L361.55,195.64 L359.25,199.64Z" fill="#fff" stroke="#44709a" stroke-width="0.9"/>
<line x1="367.85" y1="204.32" x2="367.85" y2="225.56" stroke="#cc6378" stroke-width="0.85"/><line x1="365.85" y1="204.32" x2="369.85" y2="204.32" stroke="#74525a" stroke-width="0.9"/><line x1="365.85" y1="225.56" x2="369.85" y2="225.56" stroke="#74525a" stroke-width="0.9"/>
<line x1="373.30" y1="204.32" x2="373.30" y2="218.48" stroke="#dca464" stroke-width="0.85"/><line x1="371.30" y1="204.32" x2="375.30" y2="204.32" stroke="#8e765e" stroke-width="0.9"/><line x1="371.30" y1="218.48" x2="375.30" y2="218.48" stroke="#8e765e" stroke-width="0.9"/>
<line x1="378.70" y1="190.16" x2="378.70" y2="211.40" stroke="#4d7664" stroke-width="0.85"/><line x1="376.70" y1="190.16" x2="380.70" y2="190.16" stroke="#4a6458" stroke-width="0.9"/><line x1="376.70" y1="211.40" x2="380.70" y2="211.40" stroke="#4a6458" stroke-width="0.9"/>
<line x1="384.15" y1="190.16" x2="384.15" y2="218.48" stroke="#5f7a98" stroke-width="0.85"/><line x1="382.15" y1="190.16" x2="386.15" y2="190.16" stroke="#56667a" stroke-width="0.9"/><line x1="382.15" y1="218.48" x2="386.15" y2="218.48" stroke="#56667a" stroke-width="0.9"/>
<rect x="365.85" y="209.40" width="4.00" height="4.00" fill="#b80d2c"/>
<circle cx="373.30" cy="211.40" r="2.00" fill="#d0822e" stroke="#a8642c" stroke-width="0.6"/>
<path d="M378.70,202.82 L380.90,206.72 L376.50,206.72Z" fill="#1d5238"/>
<path d="M381.85,202.72 L386.45,202.72 L384.15,206.72Z" fill="#fff" stroke="#44709a" stroke-width="0.9"/>
<line x1="392.75" y1="197.24" x2="392.75" y2="232.64" stroke="#cc6378" stroke-width="0.85"/><line x1="390.75" y1="197.24" x2="394.75" y2="197.24" stroke="#74525a" stroke-width="0.9"/><line x1="390.75" y1="232.64" x2="394.75" y2="232.64" stroke="#74525a" stroke-width="0.9"/>
<line x1="398.20" y1="204.32" x2="398.20" y2="232.64" stroke="#dca464" stroke-width="0.85"/><line x1="396.20" y1="204.32" x2="400.20" y2="204.32" stroke="#8e765e" stroke-width="0.9"/><line x1="396.20" y1="232.64" x2="400.20" y2="232.64" stroke="#8e765e" stroke-width="0.9"/>
<line x1="403.60" y1="183.08" x2="403.60" y2="218.48" stroke="#4d7664" stroke-width="0.85"/><line x1="401.60" y1="183.08" x2="405.60" y2="183.08" stroke="#4a6458" stroke-width="0.9"/><line x1="401.60" y1="218.48" x2="405.60" y2="218.48" stroke="#4a6458" stroke-width="0.9"/>
<line x1="409.05" y1="183.08" x2="409.05" y2="218.48" stroke="#5f7a98" stroke-width="0.85"/><line x1="407.05" y1="183.08" x2="411.05" y2="183.08" stroke="#56667a" stroke-width="0.9"/><line x1="407.05" y1="218.48" x2="411.05" y2="218.48" stroke="#56667a" stroke-width="0.9"/>
<rect x="390.75" y="216.48" width="4.00" height="4.00" fill="#b80d2c"/>
<circle cx="398.20" cy="218.48" r="2.00" fill="#d0822e" stroke="#a8642c" stroke-width="0.6"/>
<path d="M403.60,209.90 L405.80,213.80 L401.40,213.80Z" fill="#1d5238"/>
<path d="M406.75,202.72 L411.35,202.72 L409.05,206.72Z" fill="#fff" stroke="#44709a" stroke-width="0.9"/>
<line x1="417.65" y1="190.16" x2="417.65" y2="211.40" stroke="#cc6378" stroke-width="0.85"/><line x1="415.65" y1="190.16" x2="419.65" y2="190.16" stroke="#74525a" stroke-width="0.9"/><line x1="415.65" y1="211.40" x2="419.65" y2="211.40" stroke="#74525a" stroke-width="0.9"/>
<line x1="423.10" y1="190.16" x2="423.10" y2="211.40" stroke="#dca464" stroke-width="0.85"/><line x1="421.10" y1="190.16" x2="425.10" y2="190.16" stroke="#8e765e" stroke-width="0.9"/><line x1="421.10" y1="211.40" x2="425.10" y2="211.40" stroke="#8e765e" stroke-width="0.9"/>
<line x1="428.50" y1="183.08" x2="428.50" y2="211.40" stroke="#4d7664" stroke-width="0.85"/><line x1="426.50" y1="183.08" x2="430.50" y2="183.08" stroke="#4a6458" stroke-width="0.9"/><line x1="426.50" y1="211.40" x2="430.50" y2="211.40" stroke="#4a6458" stroke-width="0.9"/>
<line x1="433.95" y1="183.08" x2="433.95" y2="204.32" stroke="#5f7a98" stroke-width="0.85"/><line x1="431.95" y1="183.08" x2="435.95" y2="183.08" stroke="#56667a" stroke-width="0.9"/><line x1="431.95" y1="204.32" x2="435.95" y2="204.32" stroke="#56667a" stroke-width="0.9"/>
<rect x="415.65" y="202.32" width="4.00" height="4.00" fill="#b80d2c"/>
<circle cx="423.10" cy="197.24" r="2.00" fill="#d0822e" stroke="#a8642c" stroke-width="0.6"/>
<path d="M428.50,195.74 L430.70,199.64 L426.30,199.64Z" fill="#1d5238"/>
<path d="M431.65,195.64 L436.25,195.64 L433.95,199.64Z" fill="#fff" stroke="#44709a" stroke-width="0.9"/>
<line x1="442.55" y1="204.32" x2="442.55" y2="218.48" stroke="#cc6378" stroke-width="0.85"/><line x1="440.55" y1="204.32" x2="444.55" y2="204.32" stroke="#74525a" stroke-width="0.9"/><line x1="440.55" y1="218.48" x2="444.55" y2="218.48" stroke="#74525a" stroke-width="0.9"/>
<line x1="448.00" y1="204.32" x2="448.00" y2="218.48" stroke="#dca464" stroke-width="0.85"/><line x1="446.00" y1="204.32" x2="450.00" y2="204.32" stroke="#8e765e" stroke-width="0.9"/><line x1="446.00" y1="218.48" x2="450.00" y2="218.48" stroke="#8e765e" stroke-width="0.9"/>
<line x1="453.40" y1="190.16" x2="453.40" y2="218.48" stroke="#4d7664" stroke-width="0.85"/><line x1="451.40" y1="190.16" x2="455.40" y2="190.16" stroke="#4a6458" stroke-width="0.9"/><line x1="451.40" y1="218.48" x2="455.40" y2="218.48" stroke="#4a6458" stroke-width="0.9"/>
<line x1="458.85" y1="190.16" x2="458.85" y2="218.48" stroke="#5f7a98" stroke-width="0.85"/><line x1="456.85" y1="190.16" x2="460.85" y2="190.16" stroke="#56667a" stroke-width="0.9"/><line x1="456.85" y1="218.48" x2="460.85" y2="218.48" stroke="#56667a" stroke-width="0.9"/>
<rect x="440.55" y="216.48" width="4.00" height="4.00" fill="#b80d2c"/>
<circle cx="448.00" cy="211.40" r="2.00" fill="#d0822e" stroke="#a8642c" stroke-width="0.6"/>
<path d="M453.40,202.82 L455.60,206.72 L451.20,206.72Z" fill="#1d5238"/>
<path d="M456.55,202.72 L461.15,202.72 L458.85,206.72Z" fill="#fff" stroke="#44709a" stroke-width="0.9"/>
<line x1="467.45" y1="211.40" x2="467.45" y2="225.56" stroke="#cc6378" stroke-width="0.85"/><line x1="465.45" y1="211.40" x2="469.45" y2="211.40" stroke="#74525a" stroke-width="0.9"/><line x1="465.45" y1="225.56" x2="469.45" y2="225.56" stroke="#74525a" stroke-width="0.9"/>
<line x1="472.90" y1="211.40" x2="472.90" y2="225.56" stroke="#dca464" stroke-width="0.85"/><line x1="470.90" y1="211.40" x2="474.90" y2="211.40" stroke="#8e765e" stroke-width="0.9"/><line x1="470.90" y1="225.56" x2="474.90" y2="225.56" stroke="#8e765e" stroke-width="0.9"/>
<line x1="478.30" y1="211.40" x2="478.30" y2="225.56" stroke="#4d7664" stroke-width="0.85"/><line x1="476.30" y1="211.40" x2="480.30" y2="211.40" stroke="#4a6458" stroke-width="0.9"/><line x1="476.30" y1="225.56" x2="480.30" y2="225.56" stroke="#4a6458" stroke-width="0.9"/>
<line x1="483.75" y1="204.32" x2="483.75" y2="225.56" stroke="#5f7a98" stroke-width="0.85"/><line x1="481.75" y1="204.32" x2="485.75" y2="204.32" stroke="#56667a" stroke-width="0.9"/><line x1="481.75" y1="225.56" x2="485.75" y2="225.56" stroke="#56667a" stroke-width="0.9"/>
<rect x="465.45" y="216.48" width="4.00" height="4.00" fill="#b80d2c"/>
<circle cx="472.90" cy="218.48" r="2.00" fill="#d0822e" stroke="#a8642c" stroke-width="0.6"/>
<path d="M478.30,216.98 L480.50,220.88 L476.10,220.88Z" fill="#1d5238"/>
<path d="M481.45,216.88 L486.05,216.88 L483.75,220.88Z" fill="#fff" stroke="#44709a" stroke-width="0.9"/>
<line x1="492.35" y1="204.32" x2="492.35" y2="225.56" stroke="#cc6378" stroke-width="0.85"/><line x1="490.35" y1="204.32" x2="494.35" y2="204.32" stroke="#74525a" stroke-width="0.9"/><line x1="490.35" y1="225.56" x2="494.35" y2="225.56" stroke="#74525a" stroke-width="0.9"/>
<line x1="497.80" y1="197.24" x2="497.80" y2="225.56" stroke="#dca464" stroke-width="0.85"/><line x1="495.80" y1="197.24" x2="499.80" y2="197.24" stroke="#8e765e" stroke-width="0.9"/><line x1="495.80" y1="225.56" x2="499.80" y2="225.56" stroke="#8e765e" stroke-width="0.9"/>
<line x1="503.20" y1="190.16" x2="503.20" y2="218.48" stroke="#4d7664" stroke-width="0.85"/><line x1="501.20" y1="190.16" x2="505.20" y2="190.16" stroke="#4a6458" stroke-width="0.9"/><line x1="501.20" y1="218.48" x2="505.20" y2="218.48" stroke="#4a6458" stroke-width="0.9"/>
<line x1="508.65" y1="190.16" x2="508.65" y2="218.48" stroke="#5f7a98" stroke-width="0.85"/><line x1="506.65" y1="190.16" x2="510.65" y2="190.16" stroke="#56667a" stroke-width="0.9"/><line x1="506.65" y1="218.48" x2="510.65" y2="218.48" stroke="#56667a" stroke-width="0.9"/>
<rect x="490.35" y="216.48" width="4.00" height="4.00" fill="#b80d2c"/>
<circle cx="497.80" cy="204.32" r="2.00" fill="#d0822e" stroke="#a8642c" stroke-width="0.6"/>
<path d="M503.20,195.74 L505.40,199.64 L501.00,199.64Z" fill="#1d5238"/>
<path d="M506.35,195.64 L510.95,195.64 L508.65,199.64Z" fill="#fff" stroke="#44709a" stroke-width="0.9"/>
<line x1="314.20" y1="171.96" x2="314.20" y2="236.88" stroke="#2b2424" stroke-width="1.3"/>
<line x1="313.60" y1="236.18" x2="513.00" y2="236.18" stroke="#2b2424" stroke-width="1.5"/>
<line x1="311.20" y1="232.64" x2="314.20" y2="232.64" stroke="#2b2424" stroke-width="0.9"/>
<text x="308.00" y="234.84" font-size="6.4" text-anchor="end" fill="#3a3a3a" stroke="#3a3a3a" stroke-width="0.15">1</text>
<line x1="311.20" y1="225.56" x2="314.20" y2="225.56" stroke="#2b2424" stroke-width="0.9"/>
<text x="308.00" y="227.76" font-size="6.4" text-anchor="end" fill="#3a3a3a" stroke="#3a3a3a" stroke-width="0.15">2</text>
<line x1="311.20" y1="218.48" x2="314.20" y2="218.48" stroke="#2b2424" stroke-width="0.9"/>
<text x="308.00" y="220.68" font-size="6.4" text-anchor="end" fill="#3a3a3a" stroke="#3a3a3a" stroke-width="0.15">3</text>
<line x1="311.20" y1="211.40" x2="314.20" y2="211.40" stroke="#2b2424" stroke-width="0.9"/>
<text x="308.00" y="213.60" font-size="6.4" text-anchor="end" fill="#3a3a3a" stroke="#3a3a3a" stroke-width="0.15">4</text>
<line x1="311.20" y1="204.32" x2="314.20" y2="204.32" stroke="#2b2424" stroke-width="0.9"/>
<text x="308.00" y="206.52" font-size="6.4" text-anchor="end" fill="#3a3a3a" stroke="#3a3a3a" stroke-width="0.15">5</text>
<line x1="311.20" y1="197.24" x2="314.20" y2="197.24" stroke="#2b2424" stroke-width="0.9"/>
<text x="308.00" y="199.44" font-size="6.4" text-anchor="end" fill="#3a3a3a" stroke="#3a3a3a" stroke-width="0.15">6</text>
<line x1="311.20" y1="190.16" x2="314.20" y2="190.16" stroke="#2b2424" stroke-width="0.9"/>
<text x="308.00" y="192.36" font-size="6.4" text-anchor="end" fill="#3a3a3a" stroke="#3a3a3a" stroke-width="0.15">7</text>
<line x1="311.20" y1="183.08" x2="314.20" y2="183.08" stroke="#2b2424" stroke-width="0.9"/>
<text x="308.00" y="185.28" font-size="6.4" text-anchor="end" fill="#3a3a3a" stroke="#3a3a3a" stroke-width="0.15">8</text>
<line x1="311.20" y1="176.00" x2="314.20" y2="176.00" stroke="#2b2424" stroke-width="0.9"/>
<text x="308.00" y="178.20" font-size="6.4" text-anchor="end" fill="#3a3a3a" stroke="#3a3a3a" stroke-width="0.15">9</text>
<line x1="326.20" y1="236.18" x2="326.20" y2="239.68" stroke="#2b2424" stroke-width="1"/>
<line x1="351.10" y1="236.18" x2="351.10" y2="239.68" stroke="#2b2424" stroke-width="1"/>
<line x1="376.00" y1="236.18" x2="376.00" y2="239.68" stroke="#2b2424" stroke-width="1"/>
<line x1="400.90" y1="236.18" x2="400.90" y2="239.68" stroke="#2b2424" stroke-width="1"/>
<line x1="425.80" y1="236.18" x2="425.80" y2="239.68" stroke="#2b2424" stroke-width="1"/>
<line x1="450.70" y1="236.18" x2="450.70" y2="239.68" stroke="#2b2424" stroke-width="1"/>
<line x1="475.60" y1="236.18" x2="475.60" y2="239.68" stroke="#2b2424" stroke-width="1"/>
<line x1="500.50" y1="236.18" x2="500.50" y2="239.68" stroke="#2b2424" stroke-width="1"/>
<text x="329.70" y="246.98" font-size="6.5" text-anchor="end" fill="#3a3a3a" stroke="#3a3a3a" stroke-width="0.24" transform="rotate(-45 329.70 246.98)">HSCT</text>
<text x="354.60" y="246.98" font-size="6.5" text-anchor="end" fill="#3a3a3a" stroke="#3a3a3a" stroke-width="0.24" transform="rotate(-45 354.60 246.98)">triple IST with</text>
<text x="360.26" y="252.64" font-size="6.5" text-anchor="end" fill="#3a3a3a" stroke="#3a3a3a" stroke-width="0.24" transform="rotate(-45 360.26 252.64)">epag</text>
<text x="379.50" y="246.98" font-size="6.5" text-anchor="end" fill="#3a3a3a" stroke="#3a3a3a" stroke-width="0.24" transform="rotate(-45 379.50 246.98)">triple IST + romi</text>
<text x="404.40" y="246.98" font-size="6.5" text-anchor="end" fill="#3a3a3a" stroke="#3a3a3a" stroke-width="0.24" transform="rotate(-45 404.40 246.98)">IST without</text>
<text x="410.06" y="252.64" font-size="6.5" text-anchor="end" fill="#3a3a3a" stroke="#3a3a3a" stroke-width="0.24" transform="rotate(-45 410.06 252.64)">TPO-RA</text>
<text x="429.30" y="246.98" font-size="6.5" text-anchor="end" fill="#3a3a3a" stroke="#3a3a3a" stroke-width="0.24" transform="rotate(-45 429.30 246.98)">low intensity IST</text>
<text x="434.96" y="252.64" font-size="6.5" text-anchor="end" fill="#3a3a3a" stroke="#3a3a3a" stroke-width="0.24" transform="rotate(-45 434.96 252.64)">+ epag</text>
<text x="454.20" y="246.98" font-size="6.5" text-anchor="end" fill="#3a3a3a" stroke="#3a3a3a" stroke-width="0.24" transform="rotate(-45 454.20 246.98)">low intensity IST</text>
<text x="459.86" y="252.64" font-size="6.5" text-anchor="end" fill="#3a3a3a" stroke="#3a3a3a" stroke-width="0.24" transform="rotate(-45 459.86 252.64)">+ romi</text>
<text x="479.10" y="246.98" font-size="6.5" text-anchor="end" fill="#3a3a3a" stroke="#3a3a3a" stroke-width="0.24" transform="rotate(-45 479.10 246.98)">low intensity</text>
<text x="484.76" y="252.64" font-size="6.5" text-anchor="end" fill="#3a3a3a" stroke="#3a3a3a" stroke-width="0.24" transform="rotate(-45 484.76 252.64)">without TPO-RA</text>
<text x="504.00" y="246.98" font-size="6.5" text-anchor="end" fill="#3a3a3a" stroke="#3a3a3a" stroke-width="0.24" transform="rotate(-45 504.00 246.98)">eltrombopag</text>
<text x="509.66" y="252.64" font-size="6.5" text-anchor="end" fill="#3a3a3a" stroke="#3a3a3a" stroke-width="0.24" transform="rotate(-45 509.66 252.64)">monotherapy</text>
<text x="317.30" y="166.66" font-size="6.45" fill="#3a3a3a" stroke="#3a3a3a" stroke-width="0.12">If best available donor– MUD</text>
<text x="26.60" y="204.22" font-size="6.7" text-anchor="middle" fill="#222" stroke="#222" stroke-width="0.3" textLength="43.2" lengthAdjust="spacingAndGlyphs" transform="rotate(-90 26.60 204.22)">Appropriateness</text>
<text x="37.20" y="204.22" font-size="6.7" text-anchor="middle" fill="#222" stroke="#222" stroke-width="0.3" textLength="27.2" lengthAdjust="spacingAndGlyphs" transform="rotate(-90 37.20 204.22)">of therapy</text>
<text x="287.50" y="204.22" font-size="6.7" text-anchor="middle" fill="#222" stroke="#222" stroke-width="0.3" textLength="43.2" lengthAdjust="spacingAndGlyphs" transform="rotate(-90 287.50 204.22)">Appropriateness</text>
<text x="298.10" y="204.22" font-size="6.7" text-anchor="middle" fill="#222" stroke="#222" stroke-width="0.3" textLength="27.2" lengthAdjust="spacingAndGlyphs" transform="rotate(-90 298.10 204.22)">of therapy</text>
<rect x="53.30" y="313.76" width="198.20" height="21.24" fill="#e0ecd8"/>
<rect x="53.30" y="356.24" width="198.20" height="21.24" fill="#f5d3cd"/>
<line x1="55.00" y1="313.50" x2="251.50" y2="313.50" stroke="#626262" stroke-width="1" stroke-dasharray="1 1"/>
<line x1="55.00" y1="335.50" x2="251.50" y2="335.50" stroke="#626262" stroke-width="1" stroke-dasharray="1 1"/>
<line x1="55.00" y1="356.50" x2="251.50" y2="356.50" stroke="#626262" stroke-width="1" stroke-dasharray="1 1"/>
<line x1="57.05" y1="317.30" x2="57.05" y2="331.46" stroke="#cc6378" stroke-width="0.85"/><line x1="55.05" y1="317.30" x2="59.05" y2="317.30" stroke="#74525a" stroke-width="0.9"/><line x1="55.05" y1="331.46" x2="59.05" y2="331.46" stroke="#74525a" stroke-width="0.9"/>
<line x1="63.22" y1="317.30" x2="63.22" y2="331.46" stroke="#dca464" stroke-width="0.85"/><line x1="61.22" y1="317.30" x2="65.22" y2="317.30" stroke="#8e765e" stroke-width="0.9"/><line x1="61.22" y1="331.46" x2="65.22" y2="331.46" stroke="#8e765e" stroke-width="0.9"/>
<line x1="69.38" y1="317.30" x2="69.38" y2="338.54" stroke="#4d7664" stroke-width="0.85"/><line x1="67.38" y1="317.30" x2="71.38" y2="317.30" stroke="#4a6458" stroke-width="0.9"/><line x1="67.38" y1="338.54" x2="71.38" y2="338.54" stroke="#4a6458" stroke-width="0.9"/>
<line x1="75.55" y1="331.46" x2="75.55" y2="345.62" stroke="#5f7a98" stroke-width="0.85"/><line x1="73.55" y1="331.46" x2="77.55" y2="331.46" stroke="#56667a" stroke-width="0.9"/><line x1="73.55" y1="345.62" x2="77.55" y2="345.62" stroke="#56667a" stroke-width="0.9"/>
<rect x="55.05" y="322.38" width="4.00" height="4.00" fill="#b80d2c"/>
<circle cx="63.22" cy="324.38" r="2.00" fill="#d0822e" stroke="#a8642c" stroke-width="0.6"/>
<path d="M69.38,329.96 L71.58,333.86 L67.18,333.86Z" fill="#1d5238"/>
<path d="M73.25,344.02 L77.85,344.02 L75.55,348.02Z" fill="#fff" stroke="#44709a" stroke-width="0.9"/>
<line x1="85.60" y1="338.54" x2="85.60" y2="359.78" stroke="#cc6378" stroke-width="0.85"/><line x1="83.60" y1="338.54" x2="87.60" y2="338.54" stroke="#74525a" stroke-width="0.9"/><line x1="83.60" y1="359.78" x2="87.60" y2="359.78" stroke="#74525a" stroke-width="0.9"/>
<line x1="91.77" y1="331.46" x2="91.77" y2="359.78" stroke="#dca464" stroke-width="0.85"/><line x1="89.77" y1="331.46" x2="93.77" y2="331.46" stroke="#8e765e" stroke-width="0.9"/><line x1="89.77" y1="359.78" x2="93.77" y2="359.78" stroke="#8e765e" stroke-width="0.9"/>
<line x1="97.93" y1="324.38" x2="97.93" y2="352.70" stroke="#4d7664" stroke-width="0.85"/><line x1="95.93" y1="324.38" x2="99.93" y2="324.38" stroke="#4a6458" stroke-width="0.9"/><line x1="95.93" y1="352.70" x2="99.93" y2="352.70" stroke="#4a6458" stroke-width="0.9"/>
<line x1="104.10" y1="324.38" x2="104.10" y2="352.70" stroke="#5f7a98" stroke-width="0.85"/><line x1="102.10" y1="324.38" x2="106.10" y2="324.38" stroke="#56667a" stroke-width="0.9"/><line x1="102.10" y1="352.70" x2="106.10" y2="352.70" stroke="#56667a" stroke-width="0.9"/>
<rect x="83.60" y="343.62" width="4.00" height="4.00" fill="#b80d2c"/>
<circle cx="91.77" cy="345.62" r="2.00" fill="#d0822e" stroke="#a8642c" stroke-width="0.6"/>
<path d="M97.93,337.04 L100.13,340.94 L95.73,340.94Z" fill="#1d5238"/>
<path d="M101.80,329.86 L106.40,329.86 L104.10,333.86Z" fill="#fff" stroke="#44709a" stroke-width="0.9"/>
<line x1="114.15" y1="338.54" x2="114.15" y2="359.78" stroke="#cc6378" stroke-width="0.85"/><line x1="112.15" y1="338.54" x2="116.15" y2="338.54" stroke="#74525a" stroke-width="0.9"/><line x1="112.15" y1="359.78" x2="116.15" y2="359.78" stroke="#74525a" stroke-width="0.9"/>
<line x1="120.32" y1="338.54" x2="120.32" y2="359.78" stroke="#dca464" stroke-width="0.85"/><line x1="118.32" y1="338.54" x2="122.32" y2="338.54" stroke="#8e765e" stroke-width="0.9"/><line x1="118.32" y1="359.78" x2="122.32" y2="359.78" stroke="#8e765e" stroke-width="0.9"/>
<line x1="126.48" y1="331.46" x2="126.48" y2="359.78" stroke="#4d7664" stroke-width="0.85"/><line x1="124.48" y1="331.46" x2="128.48" y2="331.46" stroke="#4a6458" stroke-width="0.9"/><line x1="124.48" y1="359.78" x2="128.48" y2="359.78" stroke="#4a6458" stroke-width="0.9"/>
<line x1="132.65" y1="324.38" x2="132.65" y2="359.78" stroke="#5f7a98" stroke-width="0.85"/><line x1="130.65" y1="324.38" x2="134.65" y2="324.38" stroke="#56667a" stroke-width="0.9"/><line x1="130.65" y1="359.78" x2="134.65" y2="359.78" stroke="#56667a" stroke-width="0.9"/>
<rect x="112.15" y="343.62" width="4.00" height="4.00" fill="#b80d2c"/>
<circle cx="120.32" cy="345.62" r="2.00" fill="#d0822e" stroke="#a8642c" stroke-width="0.6"/>
<path d="M126.48,344.12 L128.68,348.02 L124.28,348.02Z" fill="#1d5238"/>
<path d="M130.35,336.94 L134.95,336.94 L132.65,340.94Z" fill="#fff" stroke="#44709a" stroke-width="0.9"/>
<line x1="142.70" y1="331.46" x2="142.70" y2="366.86" stroke="#cc6378" stroke-width="0.85"/><line x1="140.70" y1="331.46" x2="144.70" y2="331.46" stroke="#74525a" stroke-width="0.9"/><line x1="140.70" y1="366.86" x2="144.70" y2="366.86" stroke="#74525a" stroke-width="0.9"/>
<line x1="148.87" y1="338.54" x2="148.87" y2="366.86" stroke="#dca464" stroke-width="0.85"/><line x1="146.87" y1="338.54" x2="150.87" y2="338.54" stroke="#8e765e" stroke-width="0.9"/><line x1="146.87" y1="366.86" x2="150.87" y2="366.86" stroke="#8e765e" stroke-width="0.9"/>
<line x1="155.03" y1="338.54" x2="155.03" y2="366.86" stroke="#4d7664" stroke-width="0.85"/><line x1="153.03" y1="338.54" x2="157.03" y2="338.54" stroke="#4a6458" stroke-width="0.9"/><line x1="153.03" y1="366.86" x2="157.03" y2="366.86" stroke="#4a6458" stroke-width="0.9"/>
<line x1="161.20" y1="338.54" x2="161.20" y2="366.86" stroke="#5f7a98" stroke-width="0.85"/><line x1="159.20" y1="338.54" x2="163.20" y2="338.54" stroke="#56667a" stroke-width="0.9"/><line x1="159.20" y1="366.86" x2="163.20" y2="366.86" stroke="#56667a" stroke-width="0.9"/>
<rect x="140.70" y="350.70" width="4.00" height="4.00" fill="#b80d2c"/>
<circle cx="148.87" cy="352.70" r="2.00" fill="#d0822e" stroke="#a8642c" stroke-width="0.6"/>
<path d="M155.03,351.20 L157.23,355.10 L152.83,355.10Z" fill="#1d5238"/>
<path d="M158.90,351.10 L163.50,351.10 L161.20,355.10Z" fill="#fff" stroke="#44709a" stroke-width="0.9"/>
<line x1="171.25" y1="352.70" x2="171.25" y2="366.86" stroke="#cc6378" stroke-width="0.85"/><line x1="169.25" y1="352.70" x2="173.25" y2="352.70" stroke="#74525a" stroke-width="0.9"/><line x1="169.25" y1="366.86" x2="173.25" y2="366.86" stroke="#74525a" stroke-width="0.9"/>
<line x1="177.42" y1="338.54" x2="177.42" y2="366.86" stroke="#dca464" stroke-width="0.85"/><line x1="175.42" y1="338.54" x2="179.42" y2="338.54" stroke="#8e765e" stroke-width="0.9"/><line x1="175.42" y1="366.86" x2="179.42" y2="366.86" stroke="#8e765e" stroke-width="0.9"/>
<line x1="183.58" y1="338.54" x2="183.58" y2="359.78" stroke="#4d7664" stroke-width="0.85"/><line x1="181.58" y1="338.54" x2="185.58" y2="338.54" stroke="#4a6458" stroke-width="0.9"/><line x1="181.58" y1="359.78" x2="185.58" y2="359.78" stroke="#4a6458" stroke-width="0.9"/>
<line x1="189.75" y1="331.46" x2="189.75" y2="352.70" stroke="#5f7a98" stroke-width="0.85"/><line x1="187.75" y1="331.46" x2="191.75" y2="331.46" stroke="#56667a" stroke-width="0.9"/><line x1="187.75" y1="352.70" x2="191.75" y2="352.70" stroke="#56667a" stroke-width="0.9"/>
<rect x="169.25" y="357.78" width="4.00" height="4.00" fill="#b80d2c"/>
<circle cx="177.42" cy="352.70" r="2.00" fill="#d0822e" stroke="#a8642c" stroke-width="0.6"/>
<path d="M183.58,344.12 L185.78,348.02 L181.38,348.02Z" fill="#1d5238"/>
<path d="M187.45,336.94 L192.05,336.94 L189.75,340.94Z" fill="#fff" stroke="#44709a" stroke-width="0.9"/>
<line x1="199.80" y1="345.62" x2="199.80" y2="366.86" stroke="#cc6378" stroke-width="0.85"/><line x1="197.80" y1="345.62" x2="201.80" y2="345.62" stroke="#74525a" stroke-width="0.9"/><line x1="197.80" y1="366.86" x2="201.80" y2="366.86" stroke="#74525a" stroke-width="0.9"/>
<line x1="205.97" y1="345.62" x2="205.97" y2="366.86" stroke="#dca464" stroke-width="0.85"/><line x1="203.97" y1="345.62" x2="207.97" y2="345.62" stroke="#8e765e" stroke-width="0.9"/><line x1="203.97" y1="366.86" x2="207.97" y2="366.86" stroke="#8e765e" stroke-width="0.9"/>
<line x1="212.13" y1="324.38" x2="212.13" y2="352.70" stroke="#4d7664" stroke-width="0.85"/><line x1="210.13" y1="324.38" x2="214.13" y2="324.38" stroke="#4a6458" stroke-width="0.9"/><line x1="210.13" y1="352.70" x2="214.13" y2="352.70" stroke="#4a6458" stroke-width="0.9"/>
<line x1="218.30" y1="324.38" x2="218.30" y2="345.62" stroke="#5f7a98" stroke-width="0.85"/><line x1="216.30" y1="324.38" x2="220.30" y2="324.38" stroke="#56667a" stroke-width="0.9"/><line x1="216.30" y1="345.62" x2="220.30" y2="345.62" stroke="#56667a" stroke-width="0.9"/>
<rect x="197.80" y="357.78" width="4.00" height="4.00" fill="#b80d2c"/>
<circle cx="205.97" cy="352.70" r="2.00" fill="#d0822e" stroke="#a8642c" stroke-width="0.6"/>
<path d="M212.13,344.12 L214.33,348.02 L209.93,348.02Z" fill="#1d5238"/>
<path d="M216.00,336.94 L220.60,336.94 L218.30,340.94Z" fill="#fff" stroke="#44709a" stroke-width="0.9"/>
<line x1="228.35" y1="359.78" x2="228.35" y2="373.94" stroke="#cc6378" stroke-width="0.85"/><line x1="226.35" y1="359.78" x2="230.35" y2="359.78" stroke="#74525a" stroke-width="0.9"/><line x1="226.35" y1="373.94" x2="230.35" y2="373.94" stroke="#74525a" stroke-width="0.9"/>
<line x1="234.52" y1="352.70" x2="234.52" y2="373.94" stroke="#dca464" stroke-width="0.85"/><line x1="232.52" y1="352.70" x2="236.52" y2="352.70" stroke="#8e765e" stroke-width="0.9"/><line x1="232.52" y1="373.94" x2="236.52" y2="373.94" stroke="#8e765e" stroke-width="0.9"/>
<line x1="240.68" y1="345.62" x2="240.68" y2="366.86" stroke="#4d7664" stroke-width="0.85"/><line x1="238.68" y1="345.62" x2="242.68" y2="345.62" stroke="#4a6458" stroke-width="0.9"/><line x1="238.68" y1="366.86" x2="242.68" y2="366.86" stroke="#4a6458" stroke-width="0.9"/>
<line x1="246.85" y1="338.54" x2="246.85" y2="366.86" stroke="#5f7a98" stroke-width="0.85"/><line x1="244.85" y1="338.54" x2="248.85" y2="338.54" stroke="#56667a" stroke-width="0.9"/><line x1="244.85" y1="366.86" x2="248.85" y2="366.86" stroke="#56667a" stroke-width="0.9"/>
<rect x="226.35" y="364.86" width="4.00" height="4.00" fill="#b80d2c"/>
<circle cx="234.52" cy="366.86" r="2.00" fill="#d0822e" stroke="#a8642c" stroke-width="0.6"/>
<path d="M240.68,358.28 L242.88,362.18 L238.48,362.18Z" fill="#1d5238"/>
<path d="M244.55,351.10 L249.15,351.10 L246.85,355.10Z" fill="#fff" stroke="#44709a" stroke-width="0.9"/>
<line x1="53.30" y1="313.26" x2="53.30" y2="378.18" stroke="#2b2424" stroke-width="1.3"/>
<line x1="52.70" y1="377.48" x2="252.00" y2="377.48" stroke="#2b2424" stroke-width="1.5"/>
<line x1="50.30" y1="373.94" x2="53.30" y2="373.94" stroke="#2b2424" stroke-width="0.9"/>
<text x="47.10" y="376.14" font-size="6.4" text-anchor="end" fill="#3a3a3a" stroke="#3a3a3a" stroke-width="0.15">1</text>
<line x1="50.30" y1="366.86" x2="53.30" y2="366.86" stroke="#2b2424" stroke-width="0.9"/>
<text x="47.10" y="369.06" font-size="6.4" text-anchor="end" fill="#3a3a3a" stroke="#3a3a3a" stroke-width="0.15">2</text>
<line x1="50.30" y1="359.78" x2="53.30" y2="359.78" stroke="#2b2424" stroke-width="0.9"/>
<text x="47.10" y="361.98" font-size="6.4" text-anchor="end" fill="#3a3a3a" stroke="#3a3a3a" stroke-width="0.15">3</text>
<line x1="50.30" y1="352.70" x2="53.30" y2="352.70" stroke="#2b2424" stroke-width="0.9"/>
<text x="47.10" y="354.90" font-size="6.4" text-anchor="end" fill="#3a3a3a" stroke="#3a3a3a" stroke-width="0.15">4</text>
<line x1="50.30" y1="345.62" x2="53.30" y2="345.62" stroke="#2b2424" stroke-width="0.9"/>
<text x="47.10" y="347.82" font-size="6.4" text-anchor="end" fill="#3a3a3a" stroke="#3a3a3a" stroke-width="0.15">5</text>
<line x1="50.30" y1="338.54" x2="53.30" y2="338.54" stroke="#2b2424" stroke-width="0.9"/>
<text x="47.10" y="340.74" font-size="6.4" text-anchor="end" fill="#3a3a3a" stroke="#3a3a3a" stroke-width="0.15">6</text>
<line x1="50.30" y1="331.46" x2="53.30" y2="331.46" stroke="#2b2424" stroke-width="0.9"/>
<text x="47.10" y="333.66" font-size="6.4" text-anchor="end" fill="#3a3a3a" stroke="#3a3a3a" stroke-width="0.15">7</text>
<line x1="50.30" y1="324.38" x2="53.30" y2="324.38" stroke="#2b2424" stroke-width="0.9"/>
<text x="47.10" y="326.58" font-size="6.4" text-anchor="end" fill="#3a3a3a" stroke="#3a3a3a" stroke-width="0.15">8</text>
<line x1="50.30" y1="317.30" x2="53.30" y2="317.30" stroke="#2b2424" stroke-width="0.9"/>
<text x="47.10" y="319.50" font-size="6.4" text-anchor="end" fill="#3a3a3a" stroke="#3a3a3a" stroke-width="0.15">9</text>
<line x1="66.30" y1="377.48" x2="66.30" y2="380.98" stroke="#2b2424" stroke-width="1"/>
<line x1="94.85" y1="377.48" x2="94.85" y2="380.98" stroke="#2b2424" stroke-width="1"/>
<line x1="123.40" y1="377.48" x2="123.40" y2="380.98" stroke="#2b2424" stroke-width="1"/>
<line x1="151.95" y1="377.48" x2="151.95" y2="380.98" stroke="#2b2424" stroke-width="1"/>
<line x1="180.50" y1="377.48" x2="180.50" y2="380.98" stroke="#2b2424" stroke-width="1"/>
<line x1="209.05" y1="377.48" x2="209.05" y2="380.98" stroke="#2b2424" stroke-width="1"/>
<line x1="237.60" y1="377.48" x2="237.60" y2="380.98" stroke="#2b2424" stroke-width="1"/>
<text x="69.80" y="388.28" font-size="6.5" text-anchor="end" fill="#3a3a3a" stroke="#3a3a3a" stroke-width="0.24" transform="rotate(-45 69.80 388.28)">HSCT</text>
<text x="98.35" y="388.28" font-size="6.5" text-anchor="end" fill="#3a3a3a" stroke="#3a3a3a" stroke-width="0.24" transform="rotate(-45 98.35 388.28)">triple IST with</text>
<text x="104.01" y="393.94" font-size="6.5" text-anchor="end" fill="#3a3a3a" stroke="#3a3a3a" stroke-width="0.24" transform="rotate(-45 104.01 393.94)">epag</text>
<text x="126.90" y="388.28" font-size="6.5" text-anchor="end" fill="#3a3a3a" stroke="#3a3a3a" stroke-width="0.24" transform="rotate(-45 126.90 388.28)">triple IST + romi</text>
<text x="155.45" y="388.28" font-size="6.5" text-anchor="end" fill="#3a3a3a" stroke="#3a3a3a" stroke-width="0.24" transform="rotate(-45 155.45 388.28)">IST without</text>
<text x="161.11" y="393.94" font-size="6.5" text-anchor="end" fill="#3a3a3a" stroke="#3a3a3a" stroke-width="0.24" transform="rotate(-45 161.11 393.94)">TPO-RA</text>
<text x="184.00" y="388.28" font-size="6.5" text-anchor="end" fill="#3a3a3a" stroke="#3a3a3a" stroke-width="0.24" transform="rotate(-45 184.00 388.28)">low intensity IST</text>
<text x="189.66" y="393.94" font-size="6.5" text-anchor="end" fill="#3a3a3a" stroke="#3a3a3a" stroke-width="0.24" transform="rotate(-45 189.66 393.94)">+ epag</text>
<text x="212.55" y="388.28" font-size="6.5" text-anchor="end" fill="#3a3a3a" stroke="#3a3a3a" stroke-width="0.24" transform="rotate(-45 212.55 388.28)">low intensity IST</text>
<text x="218.21" y="393.94" font-size="6.5" text-anchor="end" fill="#3a3a3a" stroke="#3a3a3a" stroke-width="0.24" transform="rotate(-45 218.21 393.94)">+ romi</text>
<text x="241.10" y="388.28" font-size="6.5" text-anchor="end" fill="#3a3a3a" stroke="#3a3a3a" stroke-width="0.24" transform="rotate(-45 241.10 388.28)">low intensity</text>
<text x="246.76" y="393.94" font-size="6.5" text-anchor="end" fill="#3a3a3a" stroke="#3a3a3a" stroke-width="0.24" transform="rotate(-45 246.76 393.94)">without TPO-RA</text>
<text x="56.30" y="307.96" font-size="6.45" fill="#3a3a3a" stroke="#3a3a3a" stroke-width="0.12">If best available donor– MMUD or haplo</text>
<rect x="314.20" y="313.76" width="198.30" height="21.24" fill="#e0ecd8"/>
<rect x="314.20" y="356.24" width="198.30" height="21.24" fill="#f5d3cd"/>
<line x1="316.00" y1="313.50" x2="512.50" y2="313.50" stroke="#626262" stroke-width="1" stroke-dasharray="1 1"/>
<line x1="316.00" y1="335.50" x2="512.50" y2="335.50" stroke="#626262" stroke-width="1" stroke-dasharray="1 1"/>
<line x1="316.00" y1="356.50" x2="512.50" y2="356.50" stroke="#626262" stroke-width="1" stroke-dasharray="1 1"/>
<line x1="318.05" y1="317.30" x2="318.05" y2="331.46" stroke="#cc6378" stroke-width="0.85"/><line x1="316.05" y1="317.30" x2="320.05" y2="317.30" stroke="#74525a" stroke-width="0.9"/><line x1="316.05" y1="331.46" x2="320.05" y2="331.46" stroke="#74525a" stroke-width="0.9"/>
<line x1="323.50" y1="317.30" x2="323.50" y2="331.46" stroke="#dca464" stroke-width="0.85"/><line x1="321.50" y1="317.30" x2="325.50" y2="317.30" stroke="#8e765e" stroke-width="0.9"/><line x1="321.50" y1="331.46" x2="325.50" y2="331.46" stroke="#8e765e" stroke-width="0.9"/>
<line x1="328.90" y1="324.38" x2="328.90" y2="345.62" stroke="#4d7664" stroke-width="0.85"/><line x1="326.90" y1="324.38" x2="330.90" y2="324.38" stroke="#4a6458" stroke-width="0.9"/><line x1="326.90" y1="345.62" x2="330.90" y2="345.62" stroke="#4a6458" stroke-width="0.9"/>
<line x1="334.35" y1="331.46" x2="334.35" y2="352.70" stroke="#5f7a98" stroke-width="0.85"/><line x1="332.35" y1="331.46" x2="336.35" y2="331.46" stroke="#56667a" stroke-width="0.9"/><line x1="332.35" y1="352.70" x2="336.35" y2="352.70" stroke="#56667a" stroke-width="0.9"/>
<rect x="316.05" y="315.30" width="4.00" height="4.00" fill="#b80d2c"/>
<circle cx="323.50" cy="324.38" r="2.00" fill="#d0822e" stroke="#a8642c" stroke-width="0.6"/>
<path d="M328.90,329.96 L331.10,333.86 L326.70,333.86Z" fill="#1d5238"/>
<path d="M332.05,336.94 L336.65,336.94 L334.35,340.94Z" fill="#fff" stroke="#44709a" stroke-width="0.9"/>
<line x1="342.95" y1="331.46" x2="342.95" y2="366.86" stroke="#cc6378" stroke-width="0.85"/><line x1="340.95" y1="331.46" x2="344.95" y2="331.46" stroke="#74525a" stroke-width="0.9"/><line x1="340.95" y1="366.86" x2="344.95" y2="366.86" stroke="#74525a" stroke-width="0.9"/>
<line x1="348.40" y1="331.46" x2="348.40" y2="352.70" stroke="#dca464" stroke-width="0.85"/><line x1="346.40" y1="331.46" x2="350.40" y2="331.46" stroke="#8e765e" stroke-width="0.9"/><line x1="346.40" y1="352.70" x2="350.40" y2="352.70" stroke="#8e765e" stroke-width="0.9"/>
<line x1="353.80" y1="324.38" x2="353.80" y2="352.70" stroke="#4d7664" stroke-width="0.85"/><line x1="351.80" y1="324.38" x2="355.80" y2="324.38" stroke="#4a6458" stroke-width="0.9"/><line x1="351.80" y1="352.70" x2="355.80" y2="352.70" stroke="#4a6458" stroke-width="0.9"/>
<line x1="359.25" y1="324.38" x2="359.25" y2="345.62" stroke="#5f7a98" stroke-width="0.85"/><line x1="357.25" y1="324.38" x2="361.25" y2="324.38" stroke="#56667a" stroke-width="0.9"/><line x1="357.25" y1="345.62" x2="361.25" y2="345.62" stroke="#56667a" stroke-width="0.9"/>
<rect x="340.95" y="336.54" width="4.00" height="4.00" fill="#b80d2c"/>
<circle cx="348.40" cy="338.54" r="2.00" fill="#d0822e" stroke="#a8642c" stroke-width="0.6"/>
<path d="M353.80,329.96 L356.00,333.86 L351.60,333.86Z" fill="#1d5238"/>
<path d="M356.95,329.86 L361.55,329.86 L359.25,333.86Z" fill="#fff" stroke="#44709a" stroke-width="0.9"/>
<line x1="367.85" y1="338.54" x2="367.85" y2="366.86" stroke="#cc6378" stroke-width="0.85"/><line x1="365.85" y1="338.54" x2="369.85" y2="338.54" stroke="#74525a" stroke-width="0.9"/><line x1="365.85" y1="366.86" x2="369.85" y2="366.86" stroke="#74525a" stroke-width="0.9"/>
<line x1="373.30" y1="338.54" x2="373.30" y2="359.78" stroke="#dca464" stroke-width="0.85"/><line x1="371.30" y1="338.54" x2="375.30" y2="338.54" stroke="#8e765e" stroke-width="0.9"/><line x1="371.30" y1="359.78" x2="375.30" y2="359.78" stroke="#8e765e" stroke-width="0.9"/>
<line x1="378.70" y1="331.46" x2="378.70" y2="352.70" stroke="#4d7664" stroke-width="0.85"/><line x1="376.70" y1="331.46" x2="380.70" y2="331.46" stroke="#4a6458" stroke-width="0.9"/><line x1="376.70" y1="352.70" x2="380.70" y2="352.70" stroke="#4a6458" stroke-width="0.9"/>
<line x1="384.15" y1="331.46" x2="384.15" y2="352.70" stroke="#5f7a98" stroke-width="0.85"/><line x1="382.15" y1="331.46" x2="386.15" y2="331.46" stroke="#56667a" stroke-width="0.9"/><line x1="382.15" y1="352.70" x2="386.15" y2="352.70" stroke="#56667a" stroke-width="0.9"/>
<rect x="365.85" y="343.62" width="4.00" height="4.00" fill="#b80d2c"/>
<circle cx="373.30" cy="345.62" r="2.00" fill="#d0822e" stroke="#a8642c" stroke-width="0.6"/>
<path d="M378.70,344.12 L380.90,348.02 L376.50,348.02Z" fill="#1d5238"/>
<path d="M381.85,344.02 L386.45,344.02 L384.15,348.02Z" fill="#fff" stroke="#44709a" stroke-width="0.9"/>
<line x1="392.75" y1="345.62" x2="392.75" y2="373.94" stroke="#cc6378" stroke-width="0.85"/><line x1="390.75" y1="345.62" x2="394.75" y2="345.62" stroke="#74525a" stroke-width="0.9"/><line x1="390.75" y1="373.94" x2="394.75" y2="373.94" stroke="#74525a" stroke-width="0.9"/>
<line x1="398.20" y1="345.62" x2="398.20" y2="373.94" stroke="#dca464" stroke-width="0.85"/><line x1="396.20" y1="345.62" x2="400.20" y2="345.62" stroke="#8e765e" stroke-width="0.9"/><line x1="396.20" y1="373.94" x2="400.20" y2="373.94" stroke="#8e765e" stroke-width="0.9"/>
<line x1="403.60" y1="345.62" x2="403.60" y2="366.86" stroke="#4d7664" stroke-width="0.85"/><line x1="401.60" y1="345.62" x2="405.60" y2="345.62" stroke="#4a6458" stroke-width="0.9"/><line x1="401.60" y1="366.86" x2="405.60" y2="366.86" stroke="#4a6458" stroke-width="0.9"/>
<line x1="409.05" y1="345.62" x2="409.05" y2="366.86" stroke="#5f7a98" stroke-width="0.85"/><line x1="407.05" y1="345.62" x2="411.05" y2="345.62" stroke="#56667a" stroke-width="0.9"/><line x1="407.05" y1="366.86" x2="411.05" y2="366.86" stroke="#56667a" stroke-width="0.9"/>
<rect x="390.75" y="357.78" width="4.00" height="4.00" fill="#b80d2c"/>
<circle cx="398.20" cy="359.78" r="2.00" fill="#d0822e" stroke="#a8642c" stroke-width="0.6"/>
<path d="M403.60,351.20 L405.80,355.10 L401.40,355.10Z" fill="#1d5238"/>
<path d="M406.75,344.02 L411.35,344.02 L409.05,348.02Z" fill="#fff" stroke="#44709a" stroke-width="0.9"/>
<line x1="417.65" y1="331.46" x2="417.65" y2="352.70" stroke="#cc6378" stroke-width="0.85"/><line x1="415.65" y1="331.46" x2="419.65" y2="331.46" stroke="#74525a" stroke-width="0.9"/><line x1="415.65" y1="352.70" x2="419.65" y2="352.70" stroke="#74525a" stroke-width="0.9"/>
<line x1="423.10" y1="331.46" x2="423.10" y2="352.70" stroke="#dca464" stroke-width="0.85"/><line x1="421.10" y1="331.46" x2="425.10" y2="331.46" stroke="#8e765e" stroke-width="0.9"/><line x1="421.10" y1="352.70" x2="425.10" y2="352.70" stroke="#8e765e" stroke-width="0.9"/>
<line x1="428.50" y1="324.38" x2="428.50" y2="352.70" stroke="#4d7664" stroke-width="0.85"/><line x1="426.50" y1="324.38" x2="430.50" y2="324.38" stroke="#4a6458" stroke-width="0.9"/><line x1="426.50" y1="352.70" x2="430.50" y2="352.70" stroke="#4a6458" stroke-width="0.9"/>
<line x1="433.95" y1="324.38" x2="433.95" y2="345.62" stroke="#5f7a98" stroke-width="0.85"/><line x1="431.95" y1="324.38" x2="435.95" y2="324.38" stroke="#56667a" stroke-width="0.9"/><line x1="431.95" y1="345.62" x2="435.95" y2="345.62" stroke="#56667a" stroke-width="0.9"/>
<rect x="415.65" y="336.54" width="4.00" height="4.00" fill="#b80d2c"/>
<circle cx="423.10" cy="338.54" r="2.00" fill="#d0822e" stroke="#a8642c" stroke-width="0.6"/>
<path d="M428.50,337.04 L430.70,340.94 L426.30,340.94Z" fill="#1d5238"/>
<path d="M431.65,329.86 L436.25,329.86 L433.95,333.86Z" fill="#fff" stroke="#44709a" stroke-width="0.9"/>
<line x1="442.55" y1="338.54" x2="442.55" y2="359.78" stroke="#cc6378" stroke-width="0.85"/><line x1="440.55" y1="338.54" x2="444.55" y2="338.54" stroke="#74525a" stroke-width="0.9"/><line x1="440.55" y1="359.78" x2="444.55" y2="359.78" stroke="#74525a" stroke-width="0.9"/>
<line x1="448.00" y1="338.54" x2="448.00" y2="359.78" stroke="#dca464" stroke-width="0.85"/><line x1="446.00" y1="338.54" x2="450.00" y2="338.54" stroke="#8e765e" stroke-width="0.9"/><line x1="446.00" y1="359.78" x2="450.00" y2="359.78" stroke="#8e765e" stroke-width="0.9"/>
<line x1="453.40" y1="331.46" x2="453.40" y2="359.78" stroke="#4d7664" stroke-width="0.85"/><line x1="451.40" y1="331.46" x2="455.40" y2="331.46" stroke="#4a6458" stroke-width="0.9"/><line x1="451.40" y1="359.78" x2="455.40" y2="359.78" stroke="#4a6458" stroke-width="0.9"/>
<line x1="458.85" y1="331.46" x2="458.85" y2="359.78" stroke="#5f7a98" stroke-width="0.85"/><line x1="456.85" y1="331.46" x2="460.85" y2="331.46" stroke="#56667a" stroke-width="0.9"/><line x1="456.85" y1="359.78" x2="460.85" y2="359.78" stroke="#56667a" stroke-width="0.9"/>
<rect x="440.55" y="357.78" width="4.00" height="4.00" fill="#b80d2c"/>
<circle cx="448.00" cy="345.62" r="2.00" fill="#d0822e" stroke="#a8642c" stroke-width="0.6"/>
<path d="M453.40,344.12 L455.60,348.02 L451.20,348.02Z" fill="#1d5238"/>
<path d="M456.55,344.02 L461.15,344.02 L458.85,348.02Z" fill="#fff" stroke="#44709a" stroke-width="0.9"/>
<line x1="467.45" y1="352.70" x2="467.45" y2="366.86" stroke="#cc6378" stroke-width="0.85"/><line x1="465.45" y1="352.70" x2="469.45" y2="352.70" stroke="#74525a" stroke-width="0.9"/><line x1="465.45" y1="366.86" x2="469.45" y2="366.86" stroke="#74525a" stroke-width="0.9"/>
<line x1="472.90" y1="352.70" x2="472.90" y2="366.86" stroke="#dca464" stroke-width="0.85"/><line x1="470.90" y1="352.70" x2="474.90" y2="352.70" stroke="#8e765e" stroke-width="0.9"/><line x1="470.90" y1="366.86" x2="474.90" y2="366.86" stroke="#8e765e" stroke-width="0.9"/>
<line x1="478.30" y1="352.70" x2="478.30" y2="366.86" stroke="#4d7664" stroke-width="0.85"/><line x1="476.30" y1="352.70" x2="480.30" y2="352.70" stroke="#4a6458" stroke-width="0.9"/><line x1="476.30" y1="366.86" x2="480.30" y2="366.86" stroke="#4a6458" stroke-width="0.9"/>
<line x1="483.75" y1="352.70" x2="483.75" y2="366.86" stroke="#5f7a98" stroke-width="0.85"/><line x1="481.75" y1="352.70" x2="485.75" y2="352.70" stroke="#56667a" stroke-width="0.9"/><line x1="481.75" y1="366.86" x2="485.75" y2="366.86" stroke="#56667a" stroke-width="0.9"/>
<rect x="465.45" y="357.78" width="4.00" height="4.00" fill="#b80d2c"/>
<circle cx="472.90" cy="359.78" r="2.00" fill="#d0822e" stroke="#a8642c" stroke-width="0.6"/>
<path d="M478.30,358.28 L480.50,362.18 L476.10,362.18Z" fill="#1d5238"/>
<path d="M481.45,358.18 L486.05,358.18 L483.75,362.18Z" fill="#fff" stroke="#44709a" stroke-width="0.9"/>
<line x1="492.35" y1="345.62" x2="492.35" y2="366.86" stroke="#cc6378" stroke-width="0.85"/><line x1="490.35" y1="345.62" x2="494.35" y2="345.62" stroke="#74525a" stroke-width="0.9"/><line x1="490.35" y1="366.86" x2="494.35" y2="366.86" stroke="#74525a" stroke-width="0.9"/>
<line x1="497.80" y1="338.54" x2="497.80" y2="366.86" stroke="#dca464" stroke-width="0.85"/><line x1="495.80" y1="338.54" x2="499.80" y2="338.54" stroke="#8e765e" stroke-width="0.9"/><line x1="495.80" y1="366.86" x2="499.80" y2="366.86" stroke="#8e765e" stroke-width="0.9"/>
<line x1="503.20" y1="331.46" x2="503.20" y2="359.78" stroke="#4d7664" stroke-width="0.85"/><line x1="501.20" y1="331.46" x2="505.20" y2="331.46" stroke="#4a6458" stroke-width="0.9"/><line x1="501.20" y1="359.78" x2="505.20" y2="359.78" stroke="#4a6458" stroke-width="0.9"/>
<line x1="508.65" y1="331.46" x2="508.65" y2="359.78" stroke="#5f7a98" stroke-width="0.85"/><line x1="506.65" y1="331.46" x2="510.65" y2="331.46" stroke="#56667a" stroke-width="0.9"/><line x1="506.65" y1="359.78" x2="510.65" y2="359.78" stroke="#56667a" stroke-width="0.9"/>
<rect x="490.35" y="357.78" width="4.00" height="4.00" fill="#b80d2c"/>
<circle cx="497.80" cy="345.62" r="2.00" fill="#d0822e" stroke="#a8642c" stroke-width="0.6"/>
<path d="M503.20,337.04 L505.40,340.94 L501.00,340.94Z" fill="#1d5238"/>
<path d="M506.35,336.94 L510.95,336.94 L508.65,340.94Z" fill="#fff" stroke="#44709a" stroke-width="0.9"/>
<line x1="314.20" y1="313.26" x2="314.20" y2="378.18" stroke="#2b2424" stroke-width="1.3"/>
<line x1="313.60" y1="377.48" x2="513.00" y2="377.48" stroke="#2b2424" stroke-width="1.5"/>
<line x1="311.20" y1="373.94" x2="314.20" y2="373.94" stroke="#2b2424" stroke-width="0.9"/>
<text x="308.00" y="376.14" font-size="6.4" text-anchor="end" fill="#3a3a3a" stroke="#3a3a3a" stroke-width="0.15">1</text>
<line x1="311.20" y1="366.86" x2="314.20" y2="366.86" stroke="#2b2424" stroke-width="0.9"/>
<text x="308.00" y="369.06" font-size="6.4" text-anchor="end" fill="#3a3a3a" stroke="#3a3a3a" stroke-width="0.15">2</text>
<line x1="311.20" y1="359.78" x2="314.20" y2="359.78" stroke="#2b2424" stroke-width="0.9"/>
<text x="308.00" y="361.98" font-size="6.4" text-anchor="end" fill="#3a3a3a" stroke="#3a3a3a" stroke-width="0.15">3</text>
<line x1="311.20" y1="352.70" x2="314.20" y2="352.70" stroke="#2b2424" stroke-width="0.9"/>
<text x="308.00" y="354.90" font-size="6.4" text-anchor="end" fill="#3a3a3a" stroke="#3a3a3a" stroke-width="0.15">4</text>
<line x1="311.20" y1="345.62" x2="314.20" y2="345.62" stroke="#2b2424" stroke-width="0.9"/>
<text x="308.00" y="347.82" font-size="6.4" text-anchor="end" fill="#3a3a3a" stroke="#3a3a3a" stroke-width="0.15">5</text>
<line x1="311.20" y1="338.54" x2="314.20" y2="338.54" stroke="#2b2424" stroke-width="0.9"/>
<text x="308.00" y="340.74" font-size="6.4" text-anchor="end" fill="#3a3a3a" stroke="#3a3a3a" stroke-width="0.15">6</text>
<line x1="311.20" y1="331.46" x2="314.20" y2="331.46" stroke="#2b2424" stroke-width="0.9"/>
<text x="308.00" y="333.66" font-size="6.4" text-anchor="end" fill="#3a3a3a" stroke="#3a3a3a" stroke-width="0.15">7</text>
<line x1="311.20" y1="324.38" x2="314.20" y2="324.38" stroke="#2b2424" stroke-width="0.9"/>
<text x="308.00" y="326.58" font-size="6.4" text-anchor="end" fill="#3a3a3a" stroke="#3a3a3a" stroke-width="0.15">8</text>
<line x1="311.20" y1="317.30" x2="314.20" y2="317.30" stroke="#2b2424" stroke-width="0.9"/>
<text x="308.00" y="319.50" font-size="6.4" text-anchor="end" fill="#3a3a3a" stroke="#3a3a3a" stroke-width="0.15">9</text>
<line x1="326.20" y1="377.48" x2="326.20" y2="380.98" stroke="#2b2424" stroke-width="1"/>
<line x1="351.10" y1="377.48" x2="351.10" y2="380.98" stroke="#2b2424" stroke-width="1"/>
<line x1="376.00" y1="377.48" x2="376.00" y2="380.98" stroke="#2b2424" stroke-width="1"/>
<line x1="400.90" y1="377.48" x2="400.90" y2="380.98" stroke="#2b2424" stroke-width="1"/>
<line x1="425.80" y1="377.48" x2="425.80" y2="380.98" stroke="#2b2424" stroke-width="1"/>
<line x1="450.70" y1="377.48" x2="450.70" y2="380.98" stroke="#2b2424" stroke-width="1"/>
<line x1="475.60" y1="377.48" x2="475.60" y2="380.98" stroke="#2b2424" stroke-width="1"/>
<line x1="500.50" y1="377.48" x2="500.50" y2="380.98" stroke="#2b2424" stroke-width="1"/>
<text x="329.70" y="388.28" font-size="6.5" text-anchor="end" fill="#3a3a3a" stroke="#3a3a3a" stroke-width="0.24" transform="rotate(-45 329.70 388.28)">HSCT</text>
<text x="354.60" y="388.28" font-size="6.5" text-anchor="end" fill="#3a3a3a" stroke="#3a3a3a" stroke-width="0.24" transform="rotate(-45 354.60 388.28)">triple IST with</text>
<text x="360.26" y="393.94" font-size="6.5" text-anchor="end" fill="#3a3a3a" stroke="#3a3a3a" stroke-width="0.24" transform="rotate(-45 360.26 393.94)">epag</text>
<text x="379.50" y="388.28" font-size="6.5" text-anchor="end" fill="#3a3a3a" stroke="#3a3a3a" stroke-width="0.24" transform="rotate(-45 379.50 388.28)">triple IST + romi</text>
<text x="404.40" y="388.28" font-size="6.5" text-anchor="end" fill="#3a3a3a" stroke="#3a3a3a" stroke-width="0.24" transform="rotate(-45 404.40 388.28)">IST without</text>
<text x="410.06" y="393.94" font-size="6.5" text-anchor="end" fill="#3a3a3a" stroke="#3a3a3a" stroke-width="0.24" transform="rotate(-45 410.06 393.94)">TPO-RA</text>
<text x="429.30" y="388.28" font-size="6.5" text-anchor="end" fill="#3a3a3a" stroke="#3a3a3a" stroke-width="0.24" transform="rotate(-45 429.30 388.28)">low intensity IST</text>
<text x="434.96" y="393.94" font-size="6.5" text-anchor="end" fill="#3a3a3a" stroke="#3a3a3a" stroke-width="0.24" transform="rotate(-45 434.96 393.94)">+ epag</text>
<text x="454.20" y="388.28" font-size="6.5" text-anchor="end" fill="#3a3a3a" stroke="#3a3a3a" stroke-width="0.24" transform="rotate(-45 454.20 388.28)">low intensity IST</text>
<text x="459.86" y="393.94" font-size="6.5" text-anchor="end" fill="#3a3a3a" stroke="#3a3a3a" stroke-width="0.24" transform="rotate(-45 459.86 393.94)">+ romi</text>
<text x="479.10" y="388.28" font-size="6.5" text-anchor="end" fill="#3a3a3a" stroke="#3a3a3a" stroke-width="0.24" transform="rotate(-45 479.10 388.28)">low intensity</text>
<text x="484.76" y="393.94" font-size="6.5" text-anchor="end" fill="#3a3a3a" stroke="#3a3a3a" stroke-width="0.24" transform="rotate(-45 484.76 393.94)">without TPO-RA</text>
<text x="504.00" y="388.28" font-size="6.5" text-anchor="end" fill="#3a3a3a" stroke="#3a3a3a" stroke-width="0.24" transform="rotate(-45 504.00 388.28)">eltrombopag</text>
<text x="509.66" y="393.94" font-size="6.5" text-anchor="end" fill="#3a3a3a" stroke="#3a3a3a" stroke-width="0.24" transform="rotate(-45 509.66 393.94)">monotherapy</text>
<text x="317.30" y="307.96" font-size="6.45" fill="#3a3a3a" stroke="#3a3a3a" stroke-width="0.12">If best available donor– MMUD or haplo</text>
<text x="26.60" y="345.52" font-size="6.7" text-anchor="middle" fill="#222" stroke="#222" stroke-width="0.3" textLength="43.2" lengthAdjust="spacingAndGlyphs" transform="rotate(-90 26.60 345.52)">Appropriateness</text>
<text x="37.20" y="345.52" font-size="6.7" text-anchor="middle" fill="#222" stroke="#222" stroke-width="0.3" textLength="27.2" lengthAdjust="spacingAndGlyphs" transform="rotate(-90 37.20 345.52)">of therapy</text>
<text x="287.50" y="345.52" font-size="6.7" text-anchor="middle" fill="#222" stroke="#222" stroke-width="0.3" textLength="43.2" lengthAdjust="spacingAndGlyphs" transform="rotate(-90 287.50 345.52)">Appropriateness</text>
<text x="298.10" y="345.52" font-size="6.7" text-anchor="middle" fill="#222" stroke="#222" stroke-width="0.3" textLength="27.2" lengthAdjust="spacingAndGlyphs" transform="rotate(-90 298.10 345.52)">of therapy</text>
<rect x="59.20" y="434.50" width="4.60" height="4.60" fill="#b80d2c"/>
<text x="66.90" y="439.00" font-size="6.35" fill="#3a3a3a" stroke="#3a3a3a" stroke-width="0.15">0-20 years</text>
<circle cx="105.80" cy="436.80" r="2.10" fill="#d0822e" stroke="#a8642c" stroke-width="0.6"/>
<text x="110.60" y="439.00" font-size="6.35" fill="#3a3a3a" stroke="#3a3a3a" stroke-width="0.15">21-40 years</text>
<path d="M154.40,435.10 L156.80,439.40 L152.00,439.40Z" fill="#1d5238"/>
<text x="159.00" y="439.00" font-size="6.35" fill="#3a3a3a" stroke="#3a3a3a" stroke-width="0.15">41-60 years</text>
<path d="M199.50,435.00 L204.50,435.00 L202.00,439.40Z" fill="#fff" stroke="#44709a" stroke-width="0.9"/>
<text x="206.60" y="439.00" font-size="6.35" fill="#3a3a3a" stroke="#3a3a3a" stroke-width="0.15">over 60 years</text>
<rect x="319.50" y="434.50" width="4.60" height="4.60" fill="#b80d2c"/>
<text x="327.20" y="439.00" font-size="6.35" fill="#3a3a3a" stroke="#3a3a3a" stroke-width="0.15">0-20 years</text>
<circle cx="366.10" cy="436.80" r="2.10" fill="#d0822e" stroke="#a8642c" stroke-width="0.6"/>
<text x="370.90" y="439.00" font-size="6.35" fill="#3a3a3a" stroke="#3a3a3a" stroke-width="0.15">21-40 years</text>
<path d="M414.70,435.10 L417.10,439.40 L412.30,439.40Z" fill="#1d5238"/>
<text x="419.30" y="439.00" font-size="6.35" fill="#3a3a3a" stroke="#3a3a3a" stroke-width="0.15">41-60 years</text>
<path d="M459.80,435.00 L464.80,435.00 L462.30,439.40Z" fill="#fff" stroke="#44709a" stroke-width="0.9"/>
<text x="466.90" y="439.00" font-size="6.35" fill="#3a3a3a" stroke="#3a3a3a" stroke-width="0.15">over 60 years</text>
<rect x="135.30" y="479.67" width="97.30" height="28.38" fill="#e0ecd8"/>
<rect x="135.30" y="536.43" width="97.30" height="28.38" fill="#f5d3cd"/>
<line x1="137.00" y1="479.50" x2="232.60" y2="479.50" stroke="#626262" stroke-width="1" stroke-dasharray="1 1"/>
<line x1="137.00" y1="508.50" x2="232.60" y2="508.50" stroke="#626262" stroke-width="1" stroke-dasharray="1 1"/>
<line x1="137.00" y1="536.50" x2="232.60" y2="536.50" stroke="#626262" stroke-width="1" stroke-dasharray="1 1"/>
<line x1="155.00" y1="503.32" x2="155.00" y2="531.70" stroke="#c4b2a4" stroke-width="0.85"/><line x1="152.40" y1="503.32" x2="157.60" y2="503.32" stroke="#857a6e" stroke-width="0.9"/><line x1="152.40" y1="531.70" x2="157.60" y2="531.70" stroke="#857a6e" stroke-width="0.9"/>
<path d="M155.00,519.44 L157.80,522.24 L155.00,525.04 L152.20,522.24Z" fill="#43291a"/>
<line x1="184.00" y1="484.40" x2="184.00" y2="531.70" stroke="#c4b2a4" stroke-width="0.85"/><line x1="181.40" y1="484.40" x2="186.60" y2="484.40" stroke="#857a6e" stroke-width="0.9"/><line x1="181.40" y1="531.70" x2="186.60" y2="531.70" stroke="#857a6e" stroke-width="0.9"/>
<path d="M184.00,509.98 L186.80,512.78 L184.00,515.58 L181.20,512.78Z" fill="#43291a"/>
<line x1="212.90" y1="512.78" x2="212.90" y2="541.16" stroke="#c4b2a4" stroke-width="0.85"/><line x1="210.30" y1="512.78" x2="215.50" y2="512.78" stroke="#857a6e" stroke-width="0.9"/><line x1="210.30" y1="541.16" x2="215.50" y2="541.16" stroke="#857a6e" stroke-width="0.9"/>
<path d="M212.90,528.90 L215.70,531.70 L212.90,534.50 L210.10,531.70Z" fill="#43291a"/>
<line x1="135.30" y1="479.17" x2="135.30" y2="565.51" stroke="#2b2424" stroke-width="1.3"/>
<line x1="134.70" y1="564.81" x2="233.10" y2="564.81" stroke="#2b2424" stroke-width="1.5"/>
<line x1="132.30" y1="560.08" x2="135.30" y2="560.08" stroke="#2b2424" stroke-width="0.9"/>
<text x="129.10" y="562.28" font-size="6.4" text-anchor="end" fill="#3a3a3a" stroke="#3a3a3a" stroke-width="0.15">1</text>
<line x1="132.30" y1="550.62" x2="135.30" y2="550.62" stroke="#2b2424" stroke-width="0.9"/>
<text x="129.10" y="552.82" font-size="6.4" text-anchor="end" fill="#3a3a3a" stroke="#3a3a3a" stroke-width="0.15">2</text>
<line x1="132.30" y1="541.16" x2="135.30" y2="541.16" stroke="#2b2424" stroke-width="0.9"/>
<text x="129.10" y="543.36" font-size="6.4" text-anchor="end" fill="#3a3a3a" stroke="#3a3a3a" stroke-width="0.15">3</text>
<line x1="132.30" y1="531.70" x2="135.30" y2="531.70" stroke="#2b2424" stroke-width="0.9"/>
<text x="129.10" y="533.90" font-size="6.4" text-anchor="end" fill="#3a3a3a" stroke="#3a3a3a" stroke-width="0.15">4</text>
<line x1="132.30" y1="522.24" x2="135.30" y2="522.24" stroke="#2b2424" stroke-width="0.9"/>
<text x="129.10" y="524.44" font-size="6.4" text-anchor="end" fill="#3a3a3a" stroke="#3a3a3a" stroke-width="0.15">5</text>
<line x1="132.30" y1="512.78" x2="135.30" y2="512.78" stroke="#2b2424" stroke-width="0.9"/>
<text x="129.10" y="514.98" font-size="6.4" text-anchor="end" fill="#3a3a3a" stroke="#3a3a3a" stroke-width="0.15">6</text>
<line x1="132.30" y1="503.32" x2="135.30" y2="503.32" stroke="#2b2424" stroke-width="0.9"/>
<text x="129.10" y="505.52" font-size="6.4" text-anchor="end" fill="#3a3a3a" stroke="#3a3a3a" stroke-width="0.15">7</text>
<line x1="132.30" y1="493.86" x2="135.30" y2="493.86" stroke="#2b2424" stroke-width="0.9"/>
<text x="129.10" y="496.06" font-size="6.4" text-anchor="end" fill="#3a3a3a" stroke="#3a3a3a" stroke-width="0.15">8</text>
<line x1="132.30" y1="484.40" x2="135.30" y2="484.40" stroke="#2b2424" stroke-width="0.9"/>
<text x="129.10" y="486.60" font-size="6.4" text-anchor="end" fill="#3a3a3a" stroke="#3a3a3a" stroke-width="0.15">9</text>
<line x1="155.00" y1="564.81" x2="155.00" y2="568.31" stroke="#2b2424" stroke-width="1"/>
<line x1="184.00" y1="564.81" x2="184.00" y2="568.31" stroke="#2b2424" stroke-width="1"/>
<line x1="212.90" y1="564.81" x2="212.90" y2="568.31" stroke="#2b2424" stroke-width="1"/>
<text x="157.20" y="574.21" font-size="6.5" text-anchor="end" fill="#3a3a3a" stroke="#3a3a3a" stroke-width="0.24" transform="rotate(-45 157.20 574.21)">Low intensity + epag</text>
<text x="186.20" y="574.21" font-size="6.5" text-anchor="end" fill="#3a3a3a" stroke="#3a3a3a" stroke-width="0.24" transform="rotate(-45 186.20 574.21)">Low intensity + romi</text>
<text x="215.10" y="574.21" font-size="6.5" text-anchor="end" fill="#3a3a3a" stroke="#3a3a3a" stroke-width="0.24" transform="rotate(-45 215.10 574.21)">low intensity</text>
<text x="220.76" y="579.87" font-size="6.5" text-anchor="end" fill="#3a3a3a" stroke="#3a3a3a" stroke-width="0.24" transform="rotate(-45 220.76 579.87)">without TPO-RA</text>
<text x="148.60" y="474.67" font-size="6.45" fill="#3a3a3a" stroke="#3a3a3a" stroke-width="0.12">Refractory to CSA+epag</text>
<rect x="281.70" y="480.31" width="97.40" height="28.11" fill="#e0ecd8"/>
<rect x="281.70" y="536.53" width="97.40" height="28.11" fill="#f5d3cd"/>
<line x1="283.00" y1="480.50" x2="379.10" y2="480.50" stroke="#626262" stroke-width="1" stroke-dasharray="1 1"/>
<line x1="283.00" y1="508.50" x2="379.10" y2="508.50" stroke="#626262" stroke-width="1" stroke-dasharray="1 1"/>
<line x1="283.00" y1="536.50" x2="379.10" y2="536.50" stroke="#626262" stroke-width="1" stroke-dasharray="1 1"/>
<line x1="296.50" y1="494.37" x2="296.50" y2="513.11" stroke="#75685a" stroke-width="0.85"/><line x1="293.90" y1="494.37" x2="299.10" y2="494.37" stroke="#5e564c" stroke-width="0.9"/><line x1="293.90" y1="513.11" x2="299.10" y2="513.11" stroke="#5e564c" stroke-width="0.9"/>
<path d="M296.50,491.57 L299.30,494.37 L296.50,497.17 L293.70,494.37Z" fill="#43291a"/>
<line x1="318.95" y1="503.74" x2="318.95" y2="522.48" stroke="#75685a" stroke-width="0.85"/><line x1="316.35" y1="503.74" x2="321.55" y2="503.74" stroke="#5e564c" stroke-width="0.9"/><line x1="316.35" y1="522.48" x2="321.55" y2="522.48" stroke="#5e564c" stroke-width="0.9"/>
<path d="M318.95,510.31 L321.75,513.11 L318.95,515.91 L316.15,513.11Z" fill="#43291a"/>
<line x1="341.40" y1="522.48" x2="341.40" y2="550.59" stroke="#75685a" stroke-width="0.85"/><line x1="338.80" y1="522.48" x2="344.00" y2="522.48" stroke="#5e564c" stroke-width="0.9"/><line x1="338.80" y1="550.59" x2="344.00" y2="550.59" stroke="#5e564c" stroke-width="0.9"/>
<path d="M341.40,529.05 L344.20,531.85 L341.40,534.65 L338.60,531.85Z" fill="#43291a"/>
<line x1="363.85" y1="494.37" x2="363.85" y2="513.11" stroke="#75685a" stroke-width="0.85"/><line x1="361.25" y1="494.37" x2="366.45" y2="494.37" stroke="#5e564c" stroke-width="0.9"/><line x1="361.25" y1="513.11" x2="366.45" y2="513.11" stroke="#5e564c" stroke-width="0.9"/>
<path d="M363.85,500.94 L366.65,503.74 L363.85,506.54 L361.05,503.74Z" fill="#43291a"/>
<line x1="281.70" y1="479.81" x2="281.70" y2="565.35" stroke="#2b2424" stroke-width="1.3"/>
<line x1="281.10" y1="564.64" x2="379.60" y2="564.64" stroke="#2b2424" stroke-width="1.5"/>
<line x1="278.70" y1="559.96" x2="281.70" y2="559.96" stroke="#2b2424" stroke-width="0.9"/>
<text x="275.50" y="562.16" font-size="6.4" text-anchor="end" fill="#3a3a3a" stroke="#3a3a3a" stroke-width="0.15">1</text>
<line x1="278.70" y1="550.59" x2="281.70" y2="550.59" stroke="#2b2424" stroke-width="0.9"/>
<text x="275.50" y="552.79" font-size="6.4" text-anchor="end" fill="#3a3a3a" stroke="#3a3a3a" stroke-width="0.15">2</text>
<line x1="278.70" y1="541.22" x2="281.70" y2="541.22" stroke="#2b2424" stroke-width="0.9"/>
<text x="275.50" y="543.42" font-size="6.4" text-anchor="end" fill="#3a3a3a" stroke="#3a3a3a" stroke-width="0.15">3</text>
<line x1="278.70" y1="531.85" x2="281.70" y2="531.85" stroke="#2b2424" stroke-width="0.9"/>
<text x="275.50" y="534.05" font-size="6.4" text-anchor="end" fill="#3a3a3a" stroke="#3a3a3a" stroke-width="0.15">4</text>
<line x1="278.70" y1="522.48" x2="281.70" y2="522.48" stroke="#2b2424" stroke-width="0.9"/>
<text x="275.50" y="524.68" font-size="6.4" text-anchor="end" fill="#3a3a3a" stroke="#3a3a3a" stroke-width="0.15">5</text>
<line x1="278.70" y1="513.11" x2="281.70" y2="513.11" stroke="#2b2424" stroke-width="0.9"/>
<text x="275.50" y="515.31" font-size="6.4" text-anchor="end" fill="#3a3a3a" stroke="#3a3a3a" stroke-width="0.15">6</text>
<line x1="278.70" y1="503.74" x2="281.70" y2="503.74" stroke="#2b2424" stroke-width="0.9"/>
<text x="275.50" y="505.94" font-size="6.4" text-anchor="end" fill="#3a3a3a" stroke="#3a3a3a" stroke-width="0.15">7</text>
<line x1="278.70" y1="494.37" x2="281.70" y2="494.37" stroke="#2b2424" stroke-width="0.9"/>
<text x="275.50" y="496.57" font-size="6.4" text-anchor="end" fill="#3a3a3a" stroke="#3a3a3a" stroke-width="0.15">8</text>
<line x1="278.70" y1="485.00" x2="281.70" y2="485.00" stroke="#2b2424" stroke-width="0.9"/>
<text x="275.50" y="487.20" font-size="6.4" text-anchor="end" fill="#3a3a3a" stroke="#3a3a3a" stroke-width="0.15">9</text>
<line x1="296.50" y1="564.64" x2="296.50" y2="568.14" stroke="#2b2424" stroke-width="1"/>
<line x1="318.95" y1="564.64" x2="318.95" y2="568.14" stroke="#2b2424" stroke-width="1"/>
<line x1="341.40" y1="564.64" x2="341.40" y2="568.14" stroke="#2b2424" stroke-width="1"/>
<line x1="363.85" y1="564.64" x2="363.85" y2="568.14" stroke="#2b2424" stroke-width="1"/>
<text x="299.50" y="574.85" font-size="6.5" text-anchor="end" fill="#3a3a3a" stroke="#3a3a3a" stroke-width="0.24" transform="rotate(-45 299.50 574.85)">low intensity + epag</text>
<text x="321.95" y="574.85" font-size="6.5" text-anchor="end" fill="#3a3a3a" stroke="#3a3a3a" stroke-width="0.24" transform="rotate(-45 321.95 574.85)">low intensity + romi</text>
<text x="344.40" y="574.85" font-size="6.5" text-anchor="end" fill="#3a3a3a" stroke="#3a3a3a" stroke-width="0.24" transform="rotate(-45 344.40 574.85)">low intensity</text>
<text x="350.06" y="580.50" font-size="6.5" text-anchor="end" fill="#3a3a3a" stroke="#3a3a3a" stroke-width="0.24" transform="rotate(-45 350.06 580.50)">without TPO-RA</text>
<text x="366.85" y="574.85" font-size="6.5" text-anchor="end" fill="#3a3a3a" stroke="#3a3a3a" stroke-width="0.24" transform="rotate(-45 366.85 574.85)">eltrombopag</text>
<text x="372.51" y="580.50" font-size="6.5" text-anchor="end" fill="#3a3a3a" stroke="#3a3a3a" stroke-width="0.24" transform="rotate(-45 372.51 580.50)">monotherapy</text>
<text x="284.90" y="475.31" font-size="6.45" fill="#3a3a3a" stroke="#3a3a3a" stroke-width="0.12">Refractory to CSA monotherapy</text>
<text x="120.00" y="522.40" font-size="7.6" text-anchor="middle" fill="#222" stroke="#222" stroke-width="0.25" textLength="75" lengthAdjust="spacingAndGlyphs" transform="rotate(-90 120.00 522.40)">Appropriateness of therapy</text>
<text x="266.00" y="522.50" font-size="7.6" text-anchor="middle" fill="#222" stroke="#222" stroke-width="0.25" textLength="73" lengthAdjust="spacingAndGlyphs" transform="rotate(-90 266.00 522.50)">Appropriateness of therapy</text>
<path d="M397.70,519.60 L400.50,522.40 L397.70,525.20 L394.90,522.40Z" fill="#43291a"/>
<text x="404.2" y="524.8" font-size="6.4" fill="#3a3a3a" stroke="#3a3a3a" stroke-width="0.15">Medically Unfit (any age)</text>
<rect x="0.5" y="0.5" width="519" height="624" fill="none" stroke="#555" stroke-width="1"/>
</svg>
</body></html>
